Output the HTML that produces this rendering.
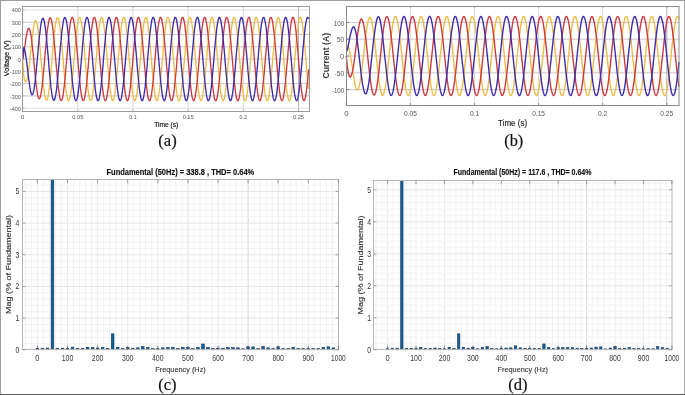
<!DOCTYPE html>
<html><head><meta charset="utf-8"><title>Figure</title>
<style>
html,body{margin:0;padding:0;background:#fff;}
body{width:685px;height:395px;overflow:hidden;}
svg{display:block;font-family:"Liberation Sans",Arial,sans-serif;}
</style></head><body>
<svg width="685" height="395" viewBox="0 0 685 395">
<rect x="0" y="0" width="685" height="395" fill="#fff"/>
<g>
<line x1="22.5" y1="108.21" x2="309.5" y2="108.21" stroke="#e0e0e2" stroke-width="1"/>
<line x1="22.5" y1="95.92" x2="309.5" y2="95.92" stroke="#cdc3cd" stroke-width="1"/>
<line x1="22.5" y1="83.63" x2="309.5" y2="83.63" stroke="#cdc3cd" stroke-width="1"/>
<line x1="22.5" y1="71.34" x2="309.5" y2="71.34" stroke="#cdc3cd" stroke-width="1"/>
<line x1="22.5" y1="59.05" x2="309.5" y2="59.05" stroke="#cdc3cd" stroke-width="1"/>
<line x1="22.5" y1="46.76" x2="309.5" y2="46.76" stroke="#cdc3cd" stroke-width="1"/>
<line x1="22.5" y1="34.47" x2="309.5" y2="34.47" stroke="#cdc3cd" stroke-width="1"/>
<line x1="22.5" y1="22.18" x2="309.5" y2="22.18" stroke="#cdc3cd" stroke-width="1"/>
<line x1="22.5" y1="9.89" x2="309.5" y2="9.89" stroke="#e0e0e2" stroke-width="1"/>
<line x1="77.78" y1="6.5" x2="77.78" y2="111.5" stroke="#dadada" stroke-width="1"/>
<line x1="132.96" y1="6.5" x2="132.96" y2="111.5" stroke="#dadada" stroke-width="1"/>
<line x1="188.14" y1="6.5" x2="188.14" y2="111.5" stroke="#dadada" stroke-width="1"/>
<line x1="243.32" y1="6.5" x2="243.32" y2="111.5" stroke="#dadada" stroke-width="1"/>
<line x1="298.5" y1="6.5" x2="298.5" y2="111.5" stroke="#b8b8bc" stroke-width="1"/>
<path d="M22.6 59.0L22.9 62.7L23.2 66.7L23.5 70.8L23.7 75.0L24.0 78.1L24.3 79.1L24.6 80.0L24.9 80.7L25.2 81.3L25.5 81.7L25.7 81.8L26.0 81.7L26.3 81.3L26.6 80.7L26.9 80.0L27.2 79.0L27.5 77.8L27.8 76.3L28.0 74.7L28.3 72.8L28.6 70.7L28.9 68.4L29.2 66.0L29.5 63.5L29.8 60.9L30.0 58.2L30.3 55.5L30.6 52.7L30.9 49.9L31.2 47.1L31.5 44.3L31.8 41.5L32.0 38.9L32.3 36.5L32.6 34.1L32.9 31.9L33.2 29.8L33.5 27.9L33.8 26.2L34.1 24.7L34.3 23.4L34.6 22.3L34.9 21.5L35.2 20.9L35.5 20.6L35.8 20.6L36.1 20.9L36.3 21.5L36.6 22.3L36.9 23.4L37.2 24.7L37.5 26.2L37.8 28.0L38.1 29.9L38.3 32.1L38.6 34.5L38.9 37.0L39.2 39.8L39.5 42.6L39.8 45.6L40.1 48.6L40.4 51.8L40.6 55.0L40.9 58.3L41.2 61.6L41.5 64.8L41.8 68.1L42.1 71.3L42.4 74.4L42.6 77.5L42.9 80.4L43.2 83.2L43.5 85.8L43.8 88.2L44.1 90.5L44.4 92.5L44.6 94.4L44.9 95.9L45.2 97.3L45.5 98.4L45.8 99.2L46.1 99.8L46.4 100.1L46.7 100.1L46.9 99.8L47.2 99.3L47.5 98.5L47.8 97.5L48.1 96.1L48.4 94.6L48.7 92.8L48.9 90.8L49.2 88.5L49.5 86.1L49.8 83.5L50.1 80.7L50.4 77.8L50.7 74.7L50.9 71.6L51.2 68.3L51.5 65.0L51.8 61.7L52.1 58.3L52.4 54.9L52.7 51.6L53.0 48.3L53.2 45.1L53.5 42.0L53.8 39.0L54.1 36.1L54.4 33.3L54.7 30.8L55.0 28.4L55.2 26.2L55.5 24.3L55.8 22.6L56.1 21.1L56.4 19.9L56.7 18.9L57.0 18.2L57.2 17.8L57.5 17.6L57.8 17.7L58.1 18.1L58.4 18.8L58.7 19.7L59.0 20.9L59.3 22.4L59.5 24.0L59.8 26.0L60.1 28.1L60.4 30.5L60.7 33.0L61.0 35.7L61.3 38.6L61.5 41.6L61.8 44.7L62.1 47.9L62.4 51.2L62.7 54.6L63.0 58.0L63.3 61.4L63.5 64.7L63.8 68.1L64.1 71.3L64.4 74.5L64.7 77.6L65.0 80.6L65.3 83.4L65.6 86.1L65.8 88.6L66.1 90.9L66.4 93.0L66.7 94.8L67.0 96.4L67.3 97.8L67.6 98.9L67.8 99.8L68.1 100.3L68.4 100.6L68.7 100.7L69.0 100.4L69.3 99.9L69.6 99.1L69.8 98.0L70.1 96.7L70.4 95.1L70.7 93.3L71.0 91.3L71.3 89.0L71.6 86.6L71.9 83.9L72.1 81.1L72.4 78.2L72.7 75.1L73.0 71.9L73.3 68.7L73.6 65.3L73.9 62.0L74.1 58.6L74.4 55.2L74.7 51.8L75.0 48.5L75.3 45.3L75.6 42.1L75.9 39.1L76.1 36.2L76.4 33.4L76.7 30.8L77.0 28.4L77.3 26.2L77.6 24.3L77.9 22.5L78.1 21.0L78.4 19.8L78.7 18.8L79.0 18.0L79.3 17.6L79.6 17.4L79.9 17.5L80.2 17.9L80.4 18.5L80.7 19.5L81.0 20.6L81.3 22.1L81.6 23.8L81.9 25.7L82.2 27.8L82.4 30.2L82.7 32.7L83.0 35.4L83.3 38.3L83.6 41.3L83.9 44.4L84.2 47.6L84.4 50.9L84.7 54.3L85.0 57.7L85.3 61.1L85.6 64.5L85.9 67.8L86.2 71.1L86.5 74.3L86.7 77.4L87.0 80.4L87.3 83.2L87.6 85.9L87.9 88.4L88.2 90.7L88.5 92.8L88.7 94.7L89.0 96.3L89.3 97.7L89.6 98.8L89.9 99.7L90.2 100.3L90.5 100.6L90.7 100.7L91.0 100.4L91.3 99.9L91.6 99.2L91.9 98.1L92.2 96.8L92.5 95.3L92.8 93.5L93.0 91.5L93.3 89.2L93.6 86.8L93.9 84.2L94.2 81.4L94.5 78.4L94.8 75.4L95.0 72.2L95.3 68.9L95.6 65.6L95.9 62.3L96.2 58.9L96.5 55.5L96.8 52.1L97.0 48.8L97.3 45.5L97.6 42.4L97.9 39.3L98.2 36.4L98.5 33.6L98.8 31.0L99.1 28.6L99.3 26.4L99.6 24.4L99.9 22.6L100.2 21.1L100.5 19.8L100.8 18.8L101.1 18.1L101.3 17.6L101.6 17.4L101.9 17.5L102.2 17.9L102.5 18.5L102.8 19.4L103.1 20.5L103.3 22.0L103.6 23.6L103.9 25.5L104.2 27.6L104.5 30.0L104.8 32.5L105.1 35.2L105.4 38.0L105.6 41.0L105.9 44.2L106.2 47.4L106.5 50.7L106.8 54.0L107.1 57.4L107.4 60.8L107.6 64.2L107.9 67.5L108.2 70.8L108.5 74.0L108.8 77.1L109.1 80.1L109.4 83.0L109.6 85.7L109.9 88.2L110.2 90.5L110.5 92.6L110.8 94.5L111.1 96.2L111.4 97.6L111.7 98.8L111.9 99.6L112.2 100.3L112.5 100.6L112.8 100.7L113.1 100.5L113.4 100.0L113.7 99.2L113.9 98.2L114.2 96.9L114.5 95.4L114.8 93.6L115.1 91.6L115.4 89.4L115.7 87.0L115.9 84.4L116.2 81.6L116.5 78.7L116.8 75.6L117.1 72.5L117.4 69.2L117.7 65.9L118.0 62.5L118.2 59.1L118.5 55.8L118.8 52.4L119.1 49.1L119.4 45.8L119.7 42.6L120.0 39.6L120.2 36.6L120.5 33.9L120.8 31.2L121.1 28.8L121.4 26.6L121.7 24.6L122.0 22.8L122.2 21.2L122.5 19.9L122.8 18.9L123.1 18.1L123.4 17.6L123.7 17.4L124.0 17.5L124.3 17.8L124.5 18.4L124.8 19.3L125.1 20.4L125.4 21.8L125.7 23.5L126.0 25.3L126.3 27.5L126.5 29.8L126.8 32.3L127.1 35.0L127.4 37.8L127.7 40.8L128.0 43.9L128.3 47.1L128.5 50.4L128.8 53.7L129.1 57.1L129.4 60.5L129.7 63.9L130.0 67.2L130.3 70.5L130.5 73.8L130.8 76.9L131.1 79.9L131.4 82.8L131.7 85.5L132.0 88.0L132.3 90.3L132.6 92.5L132.8 94.4L133.1 96.1L133.4 97.5L133.7 98.7L134.0 99.6L134.3 100.2L134.6 100.6L134.8 100.7L135.1 100.5L135.4 100.0L135.7 99.3L136.0 98.3L136.3 97.1L136.6 95.5L136.8 93.8L137.1 91.8L137.4 89.6L137.7 87.2L138.0 84.6L138.3 81.9L138.6 78.9L138.9 75.9L139.1 72.7L139.4 69.5L139.7 66.2L140.0 62.8L140.3 59.4L140.6 56.0L140.9 52.7L141.1 49.3L141.4 46.1L141.7 42.9L142.0 39.8L142.3 36.9L142.6 34.1L142.9 31.5L143.1 29.0L143.4 26.8L143.7 24.7L144.0 22.9L144.3 21.4L144.6 20.0L144.9 19.0L145.2 18.2L145.4 17.7L145.7 17.4L146.0 17.5L146.3 17.8L146.6 18.4L146.9 19.2L147.2 20.3L147.4 21.7L147.7 23.3L148.0 25.2L148.3 27.3L148.6 29.6L148.9 32.1L149.2 34.7L149.4 37.6L149.7 40.5L150.0 43.6L150.3 46.8L150.6 50.1L150.9 53.5L151.2 56.8L151.5 60.2L151.7 63.6L152.0 67.0L152.3 70.3L152.6 73.5L152.9 76.6L153.2 79.6L153.5 82.5L153.7 85.2L154.0 87.8L154.3 90.2L154.6 92.3L154.9 94.2L155.2 95.9L155.5 97.4L155.7 98.6L156.0 99.5L156.3 100.2L156.6 100.6L156.9 100.7L157.2 100.5L157.5 100.1L157.8 99.4L158.0 98.4L158.3 97.2L158.6 95.7L158.9 94.0L159.2 92.0L159.5 89.8L159.8 87.4L160.0 84.8L160.3 82.1L160.6 79.2L160.9 76.2L161.2 73.0L161.5 69.8L161.8 66.5L162.0 63.1L162.3 59.7L162.6 56.3L162.9 52.9L163.2 49.6L163.5 46.3L163.8 43.2L164.1 40.1L164.3 37.1L164.6 34.3L164.9 31.7L165.2 29.2L165.5 26.9L165.8 24.9L166.1 23.1L166.3 21.5L166.6 20.1L166.9 19.1L167.2 18.2L167.5 17.7L167.8 17.4L168.1 17.5L168.3 17.7L168.6 18.3L168.9 19.1L169.2 20.2L169.5 21.6L169.8 23.2L170.1 25.0L170.4 27.1L170.6 29.4L170.9 31.8L171.2 34.5L171.5 37.3L171.8 40.3L172.1 43.4L172.4 46.6L172.6 49.8L172.9 53.2L173.2 56.6L173.5 59.9L173.8 63.3L174.1 66.7L174.4 70.0L174.6 73.2L174.9 76.4L175.2 79.4L175.5 82.3L175.8 85.0L176.1 87.6L176.4 90.0L176.7 92.1L176.9 94.1L177.2 95.8L177.5 97.3L177.8 98.5L178.1 99.4L178.4 100.1L178.7 100.5L178.9 100.7L179.2 100.6L179.5 100.1L179.8 99.5L180.1 98.5L180.4 97.3L180.7 95.8L180.9 94.1L181.2 92.2L181.5 90.0L181.8 87.6L182.1 85.1L182.4 82.3L182.7 79.4L183.0 76.4L183.2 73.3L183.5 70.0L183.8 66.7L184.1 63.4L184.4 60.0L184.7 56.6L185.0 53.2L185.2 49.9L185.5 46.6L185.8 43.4L186.1 40.3L186.4 37.4L186.7 34.5L187.0 31.9L187.2 29.4L187.5 27.1L187.8 25.0L188.1 23.2L188.4 21.6L188.7 20.2L189.0 19.1L189.2 18.3L189.5 17.7L189.8 17.5L190.1 17.4L190.4 17.7L190.7 18.2L191.0 19.0L191.3 20.1L191.5 21.5L191.8 23.0L192.1 24.9L192.4 26.9L192.7 29.2L193.0 31.6L193.3 34.3L193.5 37.1L193.8 40.0L194.1 43.1L194.4 46.3L194.7 49.6L195.0 52.9L195.3 56.3L195.5 59.7L195.8 63.1L196.1 66.4L196.4 69.7L196.7 73.0L197.0 76.1L197.3 79.2L197.6 82.1L197.8 84.8L198.1 87.4L198.4 89.8L198.7 92.0L199.0 93.9L199.3 95.7L199.6 97.2L199.8 98.4L200.1 99.4L200.4 100.1L200.7 100.5L201.0 100.7L201.3 100.6L201.6 100.2L201.8 99.5L202.1 98.6L202.4 97.4L202.7 96.0L203.0 94.3L203.3 92.3L203.6 90.2L203.9 87.8L204.1 85.3L204.4 82.6L204.7 79.7L205.0 76.7L205.3 73.5L205.6 70.3L205.9 67.0L206.1 63.7L206.4 60.3L206.7 56.9L207.0 53.5L207.3 50.2L207.6 46.9L207.9 43.7L208.1 40.6L208.4 37.6L208.7 34.8L209.0 32.1L209.3 29.6L209.6 27.3L209.9 25.2L210.2 23.3L210.4 21.7L210.7 20.3L211.0 19.2L211.3 18.4L211.6 17.8L211.9 17.5L212.2 17.4L212.4 17.7L212.7 18.2L213.0 19.0L213.3 20.0L213.6 21.3L213.9 22.9L214.2 24.7L214.4 26.7L214.7 29.0L215.0 31.4L215.3 34.0L215.6 36.8L215.9 39.8L216.2 42.8L216.5 46.0L216.7 49.3L217.0 52.6L217.3 56.0L217.6 59.4L217.9 62.8L218.2 66.1L218.5 69.5L218.7 72.7L219.0 75.9L219.3 78.9L219.6 81.8L219.9 84.6L220.2 87.2L220.5 89.6L220.7 91.8L221.0 93.8L221.3 95.5L221.6 97.0L221.9 98.3L222.2 99.3L222.5 100.0L222.8 100.5L223.0 100.7L223.3 100.6L223.6 100.2L223.9 99.6L224.2 98.7L224.5 97.5L224.8 96.1L225.0 94.4L225.3 92.5L225.6 90.4L225.9 88.0L226.2 85.5L226.5 82.8L226.8 79.9L227.0 76.9L227.3 73.8L227.6 70.6L227.9 67.3L228.2 63.9L228.5 60.6L228.8 57.2L229.1 53.8L229.3 50.4L229.6 47.2L229.9 43.9L230.2 40.8L230.5 37.8L230.8 35.0L231.1 32.3L231.3 29.8L231.6 27.5L231.9 25.4L232.2 23.5L232.5 21.8L232.8 20.4L233.1 19.3L233.3 18.4L233.6 17.8L233.9 17.5L234.2 17.4L234.5 17.6L234.8 18.1L235.1 18.9L235.4 19.9L235.6 21.2L235.9 22.8L236.2 24.5L236.5 26.6L236.8 28.8L237.1 31.2L237.4 33.8L237.6 36.6L237.9 39.5L238.2 42.6L238.5 45.8L238.8 49.0L239.1 52.3L239.4 55.7L239.6 59.1L239.9 62.5L240.2 65.9L240.5 69.2L240.8 72.4L241.1 75.6L241.4 78.7L241.6 81.6L241.9 84.4L242.2 87.0L242.5 89.4L242.8 91.6L243.1 93.6L243.4 95.4L243.7 96.9L243.9 98.2L244.2 99.2L244.5 100.0L244.8 100.5L245.1 100.7L245.4 100.6L245.7 100.3L245.9 99.7L246.2 98.8L246.5 97.6L246.8 96.2L247.1 94.6L247.4 92.7L247.7 90.6L247.9 88.2L248.2 85.7L248.5 83.0L248.8 80.2L249.1 77.2L249.4 74.1L249.7 70.9L250.0 67.6L250.2 64.2L250.5 60.8L250.8 57.4L251.1 54.1L251.4 50.7L251.7 47.4L252.0 44.2L252.2 41.1L252.5 38.1L252.8 35.2L253.1 32.5L253.4 30.0L253.7 27.7L254.0 25.5L254.2 23.6L254.5 22.0L254.8 20.6L255.1 19.4L255.4 18.5L255.7 17.9L256.0 17.5L256.3 17.4L256.5 17.6L256.8 18.1L257.1 18.8L257.4 19.8L257.7 21.1L258.0 22.6L258.3 24.4L258.5 26.4L258.8 28.6L259.1 31.0L259.4 33.6L259.7 36.4L260.0 39.3L260.3 42.3L260.5 45.5L260.8 48.7L261.1 52.1L261.4 55.4L261.7 58.8L262.0 62.2L262.3 65.6L262.6 68.9L262.8 72.2L263.1 75.3L263.4 78.4L263.7 81.3L264.0 84.1L264.3 86.8L264.6 89.2L264.8 91.4L265.1 93.5L265.4 95.3L265.7 96.8L266.0 98.1L266.3 99.2L266.6 99.9L266.8 100.4L267.1 100.7L267.4 100.6L267.7 100.3L268.0 99.7L268.3 98.8L268.6 97.7L268.9 96.3L269.1 94.7L269.4 92.8L269.7 90.7L270.0 88.4L270.3 85.9L270.6 83.3L270.9 80.4L271.1 77.4L271.4 74.3L271.7 71.1L272.0 67.8L272.3 64.5L272.6 61.1L272.9 57.7L273.1 54.3L273.4 51.0L273.7 47.7L274.0 44.5L274.3 41.3L274.6 38.3L274.9 35.5L275.2 32.7L275.4 30.2L275.7 27.9L276.0 25.7L276.3 23.8L276.6 22.1L276.9 20.7L277.2 19.5L277.4 18.6L277.7 17.9L278.0 17.5L278.3 17.4L278.6 17.6L278.9 18.0L279.2 18.7L279.4 19.7L279.7 21.0L280.0 22.5L280.3 24.2L280.6 26.2L280.9 28.4L281.2 30.8L281.5 33.4L281.7 36.1L282.0 39.0L282.3 42.1L282.6 45.2L282.9 48.5L283.2 51.8L283.5 55.1L283.7 58.5L284.0 61.9L284.3 65.3L284.6 68.6L284.9 71.9L285.2 75.1L285.5 78.2L285.7 81.1L286.0 83.9L286.3 86.5L286.6 89.0L286.9 91.3L287.2 93.3L287.5 95.1L287.8 96.7L288.0 98.0L288.3 99.1L288.6 99.9L288.9 100.4L289.2 100.7L289.5 100.6L289.8 100.3L290.0 99.8L290.3 98.9L290.6 97.8L290.9 96.5L291.2 94.8L291.5 93.0L291.8 90.9L292.0 88.6L292.3 86.2L292.6 83.5L292.9 80.7L293.2 77.7L293.5 74.6L293.8 71.4L294.0 68.1L294.3 64.8L294.6 61.4L294.9 58.0L295.2 54.6L295.5 51.3L295.8 48.0L296.1 44.7L296.3 41.6L296.6 38.6L296.9 35.7L297.2 33.0L297.5 30.4L297.8 28.0L298.1 25.9L298.3 23.9L298.6 22.2L298.9 20.8L299.2 19.6L299.5 18.6L299.8 17.9L300.1 17.5L300.3 17.4L300.6 17.6L300.9 18.0L301.2 18.7L301.5 19.6L301.8 20.9L302.1 22.3L302.4 24.1L302.6 26.0L302.9 28.2L303.2 30.6L303.5 33.1L303.8 35.9L304.1 38.8L304.4 41.8L304.6 45.0L304.9 48.2L305.2 51.5L305.5 54.9L305.8 58.2L306.1 61.6L306.4 65.0L306.6 68.4L306.9 71.6L307.2 74.8L307.5 77.9L307.8 80.9L308.1 83.7L308.4 86.3L308.7 88.8" fill="none" stroke="#ebbd48" stroke-width="1.35" stroke-linejoin="round"/>
<path d="M22.6 59.0L22.9 58.7L23.2 57.7L23.5 56.1L23.7 53.8L24.0 51.5L24.3 49.6L24.6 47.7L24.9 45.8L25.2 43.8L25.5 41.8L25.7 39.9L26.0 38.2L26.3 36.5L26.6 34.9L26.9 33.4L27.2 32.0L27.5 30.8L27.8 29.8L28.0 28.9L28.3 28.4L28.6 28.3L28.9 28.3L29.2 28.6L29.5 29.1L29.8 29.8L30.0 30.8L30.3 31.9L30.6 33.3L30.9 34.9L31.2 36.7L31.5 38.7L31.8 40.9L32.0 43.4L32.3 46.0L32.6 48.7L32.9 51.5L33.2 54.4L33.5 57.4L33.8 60.4L34.1 63.5L34.3 66.5L34.6 69.6L34.9 72.6L35.2 75.5L35.5 78.4L35.8 81.1L36.1 83.6L36.3 86.0L36.6 88.3L36.9 90.3L37.2 92.2L37.5 93.8L37.8 95.3L38.1 96.5L38.3 97.4L38.6 98.1L38.9 98.5L39.2 98.7L39.5 98.6L39.8 98.3L40.1 97.6L40.4 96.8L40.6 95.6L40.9 94.2L41.2 92.6L41.5 90.8L41.8 88.7L42.1 86.4L42.4 83.9L42.6 81.3L42.9 78.5L43.2 75.5L43.5 72.4L43.8 69.2L44.1 66.0L44.4 62.7L44.6 59.3L44.9 56.0L45.2 52.7L45.5 49.4L45.8 46.2L46.1 43.0L46.4 40.0L46.7 37.1L46.9 34.3L47.2 31.7L47.5 29.3L47.8 27.1L48.1 25.1L48.4 23.3L48.7 21.7L48.9 20.4L49.2 19.4L49.5 18.6L49.8 18.0L50.1 17.8L50.4 17.8L50.7 18.1L50.9 18.7L51.2 19.5L51.5 20.7L51.8 22.0L52.1 23.6L52.4 25.5L52.7 27.6L53.0 29.8L53.2 32.3L53.5 35.0L53.8 37.8L54.1 40.7L54.4 43.8L54.7 47.0L55.0 50.3L55.2 53.6L55.5 56.9L55.8 60.3L56.1 63.7L56.4 67.0L56.7 70.3L57.0 73.5L57.2 76.6L57.5 79.6L57.8 82.5L58.1 85.2L58.4 87.7L58.7 90.1L59.0 92.2L59.3 94.2L59.5 95.8L59.8 97.3L60.1 98.5L60.4 99.4L60.7 100.1L61.0 100.5L61.3 100.6L61.5 100.4L61.8 100.0L62.1 99.3L62.4 98.3L62.7 97.1L63.0 95.6L63.3 93.8L63.5 91.9L63.8 89.7L64.1 87.3L64.4 84.7L64.7 82.0L65.0 79.1L65.3 76.1L65.6 72.9L65.8 69.7L66.1 66.4L66.4 63.0L66.7 59.6L67.0 56.2L67.3 52.9L67.6 49.5L67.8 46.3L68.1 43.1L68.4 40.0L68.7 37.0L69.0 34.2L69.3 31.6L69.6 29.1L69.8 26.9L70.1 24.8L70.4 23.0L70.7 21.4L71.0 20.1L71.3 19.0L71.6 18.2L71.9 17.7L72.1 17.4L72.4 17.5L72.7 17.7L73.0 18.3L73.3 19.2L73.6 20.3L73.9 21.6L74.1 23.2L74.4 25.1L74.7 27.1L75.0 29.4L75.3 31.9L75.6 34.6L75.9 37.4L76.1 40.4L76.4 43.5L76.7 46.7L77.0 49.9L77.3 53.3L77.6 56.6L77.9 60.0L78.1 63.4L78.4 66.8L78.7 70.1L79.0 73.3L79.3 76.5L79.6 79.5L79.9 82.4L80.2 85.1L80.4 87.7L80.7 90.0L81.0 92.2L81.3 94.1L81.6 95.8L81.9 97.3L82.2 98.5L82.4 99.5L82.7 100.1L83.0 100.6L83.3 100.7L83.6 100.5L83.9 100.1L84.2 99.4L84.4 98.5L84.7 97.2L85.0 95.8L85.3 94.1L85.6 92.1L85.9 89.9L86.2 87.6L86.5 85.0L86.7 82.2L87.0 79.4L87.3 76.3L87.6 73.2L87.9 70.0L88.2 66.6L88.5 63.3L88.7 59.9L89.0 56.5L89.3 53.1L89.6 49.8L89.9 46.5L90.2 43.3L90.5 40.2L90.7 37.3L91.0 34.5L91.3 31.8L91.6 29.3L91.9 27.1L92.2 25.0L92.5 23.2L92.8 21.6L93.0 20.2L93.3 19.1L93.6 18.3L93.9 17.7L94.2 17.4L94.5 17.4L94.8 17.7L95.0 18.3L95.3 19.1L95.6 20.2L95.9 21.5L96.2 23.1L96.5 24.9L96.8 27.0L97.0 29.2L97.3 31.7L97.6 34.3L97.9 37.2L98.2 40.1L98.5 43.2L98.8 46.4L99.1 49.7L99.3 53.0L99.6 56.4L99.9 59.8L100.2 63.1L100.5 66.5L100.8 69.8L101.1 73.1L101.3 76.2L101.6 79.2L101.9 82.1L102.2 84.9L102.5 87.5L102.8 89.8L103.1 92.0L103.3 94.0L103.6 95.7L103.9 97.2L104.2 98.4L104.5 99.4L104.8 100.1L105.1 100.5L105.4 100.7L105.6 100.6L105.9 100.2L106.2 99.5L106.5 98.6L106.8 97.4L107.1 95.9L107.4 94.2L107.6 92.3L107.9 90.1L108.2 87.8L108.5 85.2L108.8 82.5L109.1 79.6L109.4 76.6L109.6 73.5L109.9 70.2L110.2 66.9L110.5 63.6L110.8 60.2L111.1 56.8L111.4 53.4L111.7 50.1L111.9 46.8L112.2 43.6L112.5 40.5L112.8 37.5L113.1 34.7L113.4 32.0L113.7 29.5L113.9 27.2L114.2 25.2L114.5 23.3L114.8 21.7L115.1 20.3L115.4 19.2L115.7 18.3L115.9 17.8L116.2 17.5L116.5 17.4L116.8 17.7L117.1 18.2L117.4 19.0L117.7 20.1L118.0 21.4L118.2 22.9L118.5 24.8L118.8 26.8L119.1 29.0L119.4 31.5L119.7 34.1L120.0 36.9L120.2 39.9L120.5 42.9L120.8 46.1L121.1 49.4L121.4 52.7L121.7 56.1L122.0 59.5L122.2 62.9L122.5 66.2L122.8 69.5L123.1 72.8L123.4 75.9L123.7 79.0L124.0 81.9L124.3 84.7L124.5 87.2L124.8 89.6L125.1 91.8L125.4 93.8L125.7 95.6L126.0 97.1L126.3 98.3L126.5 99.3L126.8 100.1L127.1 100.5L127.4 100.7L127.7 100.6L128.0 100.2L128.3 99.6L128.5 98.7L128.8 97.5L129.1 96.0L129.4 94.4L129.7 92.4L130.0 90.3L130.3 88.0L130.5 85.4L130.8 82.7L131.1 79.8L131.4 76.8L131.7 73.7L132.0 70.5L132.3 67.2L132.6 63.8L132.8 60.5L133.1 57.1L133.4 53.7L133.7 50.3L134.0 47.1L134.3 43.9L134.6 40.7L134.8 37.8L135.1 34.9L135.4 32.2L135.7 29.7L136.0 27.4L136.3 25.3L136.6 23.4L136.8 21.8L137.1 20.4L137.4 19.3L137.7 18.4L138.0 17.8L138.3 17.5L138.6 17.4L138.9 17.6L139.1 18.1L139.4 18.9L139.7 20.0L140.0 21.3L140.3 22.8L140.6 24.6L140.9 26.6L141.1 28.8L141.4 31.3L141.7 33.9L142.0 36.7L142.3 39.6L142.6 42.7L142.9 45.8L143.1 49.1L143.4 52.4L143.7 55.8L144.0 59.2L144.3 62.6L144.6 65.9L144.9 69.3L145.2 72.5L145.4 75.7L145.7 78.7L146.0 81.7L146.3 84.4L146.6 87.0L146.9 89.5L147.2 91.7L147.4 93.7L147.7 95.4L148.0 97.0L148.3 98.2L148.6 99.3L148.9 100.0L149.2 100.5L149.4 100.7L149.7 100.6L150.0 100.3L150.3 99.6L150.6 98.7L150.9 97.6L151.2 96.2L151.5 94.5L151.7 92.6L152.0 90.5L152.3 88.2L152.6 85.6L152.9 82.9L153.2 80.1L153.5 77.1L153.7 74.0L154.0 70.8L154.3 67.5L154.6 64.1L154.9 60.7L155.2 57.4L155.5 54.0L155.7 50.6L156.0 47.3L156.3 44.1L156.6 41.0L156.9 38.0L157.2 35.2L157.5 32.5L157.8 29.9L158.0 27.6L158.3 25.5L158.6 23.6L158.9 21.9L159.2 20.5L159.5 19.4L159.8 18.5L160.0 17.8L160.3 17.5L160.6 17.4L160.9 17.6L161.2 18.1L161.5 18.8L161.8 19.9L162.0 21.1L162.3 22.7L162.6 24.4L162.9 26.4L163.2 28.6L163.5 31.1L163.8 33.7L164.1 36.4L164.3 39.4L164.6 42.4L164.9 45.6L165.2 48.8L165.5 52.2L165.8 55.5L166.1 58.9L166.3 62.3L166.6 65.7L166.9 69.0L167.2 72.3L167.5 75.4L167.8 78.5L168.1 81.4L168.3 84.2L168.6 86.8L168.9 89.3L169.2 91.5L169.5 93.5L169.8 95.3L170.1 96.8L170.4 98.1L170.6 99.2L170.9 100.0L171.2 100.5L171.5 100.7L171.8 100.6L172.1 100.3L172.4 99.7L172.6 98.8L172.9 97.7L173.2 96.3L173.5 94.7L173.8 92.8L174.1 90.7L174.4 88.4L174.6 85.9L174.9 83.2L175.2 80.3L175.5 77.4L175.8 74.2L176.1 71.0L176.4 67.8L176.7 64.4L176.9 61.0L177.2 57.6L177.5 54.3L177.8 50.9L178.1 47.6L178.4 44.4L178.7 41.3L178.9 38.3L179.2 35.4L179.5 32.7L179.8 30.1L180.1 27.8L180.4 25.7L180.7 23.7L180.9 22.1L181.2 20.6L181.5 19.4L181.8 18.5L182.1 17.9L182.4 17.5L182.7 17.4L183.0 17.6L183.2 18.0L183.5 18.8L183.8 19.8L184.1 21.0L184.4 22.5L184.7 24.3L185.0 26.3L185.2 28.5L185.5 30.9L185.8 33.4L186.1 36.2L186.4 39.1L186.7 42.2L187.0 45.3L187.2 48.6L187.5 51.9L187.8 55.2L188.1 58.6L188.4 62.0L188.7 65.4L189.0 68.7L189.2 72.0L189.5 75.2L189.8 78.2L190.1 81.2L190.4 84.0L190.7 86.6L191.0 89.1L191.3 91.3L191.5 93.3L191.8 95.2L192.1 96.7L192.4 98.0L192.7 99.1L193.0 99.9L193.3 100.4L193.5 100.7L193.8 100.6L194.1 100.3L194.4 99.8L194.7 98.9L195.0 97.8L195.3 96.4L195.5 94.8L195.8 92.9L196.1 90.9L196.4 88.6L196.7 86.1L197.0 83.4L197.3 80.6L197.6 77.6L197.8 74.5L198.1 71.3L198.4 68.0L198.7 64.7L199.0 61.3L199.3 57.9L199.6 54.5L199.8 51.2L200.1 47.9L200.4 44.6L200.7 41.5L201.0 38.5L201.3 35.6L201.6 32.9L201.8 30.3L202.1 28.0L202.4 25.8L202.7 23.9L203.0 22.2L203.3 20.7L203.6 19.5L203.9 18.6L204.1 17.9L204.4 17.5L204.7 17.4L205.0 17.6L205.3 18.0L205.6 18.7L205.9 19.7L206.1 20.9L206.4 22.4L206.7 24.1L207.0 26.1L207.3 28.3L207.6 30.6L207.9 33.2L208.1 36.0L208.4 38.9L208.7 41.9L209.0 45.0L209.3 48.3L209.6 51.6L209.9 55.0L210.2 58.3L210.4 61.7L210.7 65.1L211.0 68.4L211.3 71.7L211.6 74.9L211.9 78.0L212.2 80.9L212.4 83.8L212.7 86.4L213.0 88.9L213.3 91.1L213.6 93.2L213.9 95.0L214.2 96.6L214.4 97.9L214.7 99.0L215.0 99.8L215.3 100.4L215.6 100.7L215.9 100.7L216.2 100.4L216.5 99.8L216.7 99.0L217.0 97.9L217.3 96.5L217.6 94.9L217.9 93.1L218.2 91.0L218.5 88.8L218.7 86.3L219.0 83.6L219.3 80.8L219.6 77.9L219.9 74.8L220.2 71.6L220.5 68.3L220.7 65.0L221.0 61.6L221.3 58.2L221.6 54.8L221.9 51.5L222.2 48.1L222.5 44.9L222.8 41.8L223.0 38.7L223.3 35.9L223.6 33.1L223.9 30.5L224.2 28.2L224.5 26.0L224.8 24.0L225.0 22.3L225.3 20.9L225.6 19.6L225.9 18.7L226.2 18.0L226.5 17.6L226.8 17.4L227.0 17.5L227.3 18.0L227.6 18.6L227.9 19.6L228.2 20.8L228.5 22.3L228.8 24.0L229.1 25.9L229.3 28.1L229.6 30.4L229.9 33.0L230.2 35.7L230.5 38.6L230.8 41.6L231.1 44.8L231.3 48.0L231.6 51.3L231.9 54.7L232.2 58.1L232.5 61.5L232.8 64.8L233.1 68.2L233.3 71.4L233.6 74.6L233.9 77.7L234.2 80.7L234.5 83.5L234.8 86.2L235.1 88.7L235.4 91.0L235.6 93.0L235.9 94.9L236.2 96.5L236.5 97.8L236.8 98.9L237.1 99.8L237.4 100.4L237.6 100.6L237.9 100.7L238.2 100.4L238.5 99.9L238.8 99.1L239.1 98.0L239.4 96.7L239.6 95.1L239.9 93.3L240.2 91.2L240.5 89.0L240.8 86.5L241.1 83.9L241.4 81.1L241.6 78.1L241.9 75.0L242.2 71.8L242.5 68.6L242.8 65.2L243.1 61.9L243.4 58.5L243.7 55.1L243.9 51.7L244.2 48.4L244.5 45.2L244.8 42.0L245.1 39.0L245.4 36.1L245.7 33.3L245.9 30.8L246.2 28.4L246.5 26.2L246.8 24.2L247.1 22.5L247.4 21.0L247.7 19.7L247.9 18.7L248.2 18.0L248.5 17.6L248.8 17.4L249.1 17.5L249.4 17.9L249.7 18.6L250.0 19.5L250.2 20.7L250.5 22.1L250.8 23.8L251.1 25.7L251.4 27.9L251.7 30.2L252.0 32.8L252.2 35.5L252.5 38.4L252.8 41.4L253.1 44.5L253.4 47.7L253.7 51.0L254.0 54.4L254.2 57.8L254.5 61.2L254.8 64.5L255.1 67.9L255.4 71.2L255.7 74.4L256.0 77.5L256.3 80.5L256.5 83.3L256.8 86.0L257.1 88.5L257.4 90.8L257.7 92.9L258.0 94.7L258.3 96.4L258.5 97.7L258.8 98.9L259.1 99.7L259.4 100.3L259.7 100.6L260.0 100.7L260.3 100.4L260.5 99.9L260.8 99.1L261.1 98.1L261.4 96.8L261.7 95.2L262.0 93.4L262.3 91.4L262.6 89.2L262.8 86.7L263.1 84.1L263.4 81.3L263.7 78.4L264.0 75.3L264.3 72.1L264.6 68.9L264.8 65.5L265.1 62.2L265.4 58.8L265.7 55.4L266.0 52.0L266.3 48.7L266.6 45.4L266.8 42.3L267.1 39.2L267.4 36.3L267.7 33.6L268.0 31.0L268.3 28.6L268.6 26.3L268.9 24.4L269.1 22.6L269.4 21.1L269.7 19.8L270.0 18.8L270.3 18.1L270.6 17.6L270.9 17.4L271.1 17.5L271.4 17.9L271.7 18.5L272.0 19.4L272.3 20.6L272.6 22.0L272.9 23.7L273.1 25.6L273.4 27.7L273.7 30.0L274.0 32.6L274.3 35.3L274.6 38.1L274.9 41.1L275.2 44.2L275.4 47.5L275.7 50.8L276.0 54.1L276.3 57.5L276.6 60.9L276.9 64.3L277.2 67.6L277.4 70.9L277.7 74.1L278.0 77.2L278.3 80.2L278.6 83.1L278.9 85.8L279.2 88.3L279.4 90.6L279.7 92.7L280.0 94.6L280.3 96.2L280.6 97.6L280.9 98.8L281.2 99.7L281.5 100.3L281.7 100.6L282.0 100.7L282.3 100.5L282.6 100.0L282.9 99.2L283.2 98.2L283.5 96.9L283.7 95.4L284.0 93.6L284.3 91.6L284.6 89.4L284.9 86.9L285.2 84.3L285.5 81.5L285.7 78.6L286.0 75.6L286.3 72.4L286.6 69.1L286.9 65.8L287.2 62.4L287.5 59.1L287.8 55.7L288.0 52.3L288.3 49.0L288.6 45.7L288.9 42.5L289.2 39.5L289.5 36.6L289.8 33.8L290.0 31.2L290.3 28.7L290.6 26.5L290.9 24.5L291.2 22.7L291.5 21.2L291.8 19.9L292.0 18.9L292.3 18.1L292.6 17.6L292.9 17.4L293.2 17.5L293.5 17.8L293.8 18.4L294.0 19.3L294.3 20.5L294.6 21.9L294.9 23.5L295.2 25.4L295.5 27.5L295.8 29.8L296.1 32.3L296.3 35.0L296.6 37.9L296.9 40.9L297.2 44.0L297.5 47.2L297.8 50.5L298.1 53.8L298.3 57.2L298.6 60.6L298.9 64.0L299.2 67.3L299.5 70.6L299.8 73.9L300.1 77.0L300.3 80.0L300.6 82.8L300.9 85.5L301.2 88.1L301.5 90.4L301.8 92.5L302.1 94.4L302.4 96.1L302.6 97.5L302.9 98.7L303.2 99.6L303.5 100.2L303.8 100.6L304.1 100.7L304.4 100.5L304.6 100.0L304.9 99.3L305.2 98.3L305.5 97.0L305.8 95.5L306.1 93.7L306.4 91.8L306.6 89.5L306.9 87.1L307.2 84.5L307.5 81.8L307.8 78.9L308.1 75.8L308.4 72.7L308.7 69.4" fill="none" stroke="#cc3a40" stroke-width="1.35" stroke-linejoin="round"/>
<path d="M22.6 59.0L22.9 55.7L23.2 52.8L23.5 50.3L23.7 48.3L24.0 47.6L24.3 48.4L24.6 49.4L24.9 50.6L25.2 52.0L25.5 53.6L25.7 55.4L26.0 57.3L26.3 59.4L26.6 61.5L26.9 63.8L27.2 66.2L27.5 68.6L27.8 71.1L28.0 73.6L28.3 75.9L28.6 78.2L28.9 80.4L29.2 82.5L29.5 84.5L29.8 86.4L30.0 88.2L30.3 89.7L30.6 91.1L30.9 92.3L31.2 93.3L31.5 94.1L31.8 94.7L32.0 94.8L32.3 94.7L32.6 94.3L32.9 93.7L33.2 92.9L33.5 91.8L33.8 90.5L34.1 89.0L34.3 87.2L34.6 85.2L34.9 83.1L35.2 80.7L35.5 78.2L35.8 75.4L36.1 72.6L36.3 69.6L36.6 66.6L36.9 63.4L37.2 60.3L37.5 57.1L37.8 53.9L38.1 50.8L38.3 47.6L38.6 44.6L38.9 41.6L39.2 38.7L39.5 35.9L39.8 33.3L40.1 30.9L40.4 28.6L40.6 26.5L40.9 24.6L41.2 23.0L41.5 21.5L41.8 20.4L42.1 19.4L42.4 18.8L42.6 18.4L42.9 18.3L43.2 18.5L43.5 18.9L43.8 19.7L44.1 20.7L44.4 22.0L44.6 23.5L44.9 25.2L45.2 27.2L45.5 29.4L45.8 31.8L46.1 34.3L46.4 37.1L46.7 40.0L46.9 43.0L47.2 46.1L47.5 49.3L47.8 52.6L48.1 55.9L48.4 59.3L48.7 62.6L48.9 66.0L49.2 69.3L49.5 72.5L49.8 75.6L50.1 78.7L50.4 81.6L50.7 84.3L50.9 86.9L51.2 89.3L51.5 91.5L51.8 93.5L52.1 95.2L52.4 96.7L52.7 98.0L53.0 99.0L53.2 99.7L53.5 100.2L53.8 100.4L54.1 100.3L54.4 100.0L54.7 99.4L55.0 98.5L55.2 97.3L55.5 95.9L55.8 94.3L56.1 92.4L56.4 90.3L56.7 88.0L57.0 85.4L57.2 82.8L57.5 79.9L57.8 76.9L58.1 73.8L58.4 70.6L58.7 67.4L59.0 64.0L59.3 60.6L59.5 57.3L59.8 53.9L60.1 50.6L60.4 47.3L60.7 44.1L61.0 41.0L61.3 38.0L61.5 35.1L61.8 32.4L62.1 29.9L62.4 27.6L62.7 25.5L63.0 23.6L63.3 22.0L63.5 20.5L63.8 19.4L64.1 18.5L64.4 17.9L64.7 17.5L65.0 17.5L65.3 17.7L65.6 18.1L65.8 18.9L66.1 19.9L66.4 21.2L66.7 22.7L67.0 24.5L67.3 26.5L67.6 28.7L67.8 31.1L68.1 33.7L68.4 36.5L68.7 39.4L69.0 42.5L69.3 45.7L69.6 48.9L69.8 52.2L70.1 55.6L70.4 59.0L70.7 62.4L71.0 65.8L71.3 69.1L71.6 72.3L71.9 75.5L72.1 78.6L72.4 81.5L72.7 84.3L73.0 86.9L73.3 89.3L73.6 91.5L73.9 93.6L74.1 95.3L74.4 96.9L74.7 98.2L75.0 99.2L75.3 100.0L75.6 100.5L75.9 100.7L76.1 100.6L76.4 100.3L76.7 99.7L77.0 98.8L77.3 97.7L77.6 96.3L77.9 94.6L78.1 92.7L78.4 90.6L78.7 88.3L79.0 85.8L79.3 83.1L79.6 80.3L79.9 77.3L80.2 74.2L80.4 70.9L80.7 67.7L81.0 64.3L81.3 60.9L81.6 57.5L81.9 54.2L82.2 50.8L82.4 47.5L82.7 44.3L83.0 41.2L83.3 38.2L83.6 35.3L83.9 32.6L84.2 30.1L84.4 27.7L84.7 25.6L85.0 23.7L85.3 22.0L85.6 20.6L85.9 19.4L86.2 18.5L86.5 17.9L86.7 17.5L87.0 17.4L87.3 17.6L87.6 18.1L87.9 18.8L88.2 19.8L88.5 21.1L88.7 22.6L89.0 24.3L89.3 26.3L89.6 28.5L89.9 30.9L90.2 33.5L90.5 36.3L90.7 39.2L91.0 42.2L91.3 45.4L91.6 48.6L91.9 52.0L92.2 55.3L92.5 58.7L92.8 62.1L93.0 65.5L93.3 68.8L93.6 72.1L93.9 75.3L94.2 78.3L94.5 81.3L94.8 84.1L95.0 86.7L95.3 89.1L95.6 91.4L95.9 93.4L96.2 95.2L96.5 96.8L96.8 98.1L97.0 99.1L97.3 99.9L97.6 100.4L97.9 100.7L98.2 100.6L98.5 100.3L98.8 99.7L99.1 98.9L99.3 97.8L99.6 96.4L99.9 94.8L100.2 92.9L100.5 90.8L100.8 88.5L101.1 86.0L101.3 83.3L101.6 80.5L101.9 77.5L102.2 74.4L102.5 71.2L102.8 67.9L103.1 64.6L103.3 61.2L103.6 57.8L103.9 54.4L104.2 51.1L104.5 47.8L104.8 44.6L105.1 41.4L105.4 38.4L105.6 35.5L105.9 32.8L106.2 30.3L106.5 27.9L106.8 25.8L107.1 23.8L107.4 22.1L107.6 20.7L107.9 19.5L108.2 18.6L108.5 17.9L108.8 17.5L109.1 17.4L109.4 17.6L109.6 18.0L109.9 18.7L110.2 19.7L110.5 20.9L110.8 22.4L111.1 24.2L111.4 26.1L111.7 28.3L111.9 30.7L112.2 33.3L112.5 36.0L112.8 38.9L113.1 42.0L113.4 45.1L113.7 48.4L113.9 51.7L114.2 55.0L114.5 58.4L114.8 61.8L115.1 65.2L115.4 68.5L115.7 71.8L115.9 75.0L116.2 78.1L116.5 81.0L116.8 83.8L117.1 86.5L117.4 88.9L117.7 91.2L118.0 93.2L118.2 95.1L118.5 96.6L118.8 98.0L119.1 99.1L119.4 99.9L119.7 100.4L120.0 100.7L120.2 100.6L120.5 100.4L120.8 99.8L121.1 99.0L121.4 97.9L121.7 96.5L122.0 94.9L122.2 93.1L122.5 91.0L122.8 88.7L123.1 86.2L123.4 83.6L123.7 80.7L124.0 77.8L124.3 74.7L124.5 71.5L124.8 68.2L125.1 64.9L125.4 61.5L125.7 58.1L126.0 54.7L126.3 51.4L126.5 48.1L126.8 44.8L127.1 41.7L127.4 38.7L127.7 35.8L128.0 33.0L128.3 30.5L128.5 28.1L128.8 25.9L129.1 24.0L129.4 22.3L129.7 20.8L130.0 19.6L130.3 18.6L130.5 18.0L130.8 17.5L131.1 17.4L131.4 17.6L131.7 18.0L132.0 18.7L132.3 19.6L132.6 20.8L132.8 22.3L133.1 24.0L133.4 26.0L133.7 28.1L134.0 30.5L134.3 33.1L134.6 35.8L134.8 38.7L135.1 41.7L135.4 44.9L135.7 48.1L136.0 51.4L136.3 54.8L136.6 58.2L136.8 61.5L137.1 64.9L137.4 68.3L137.7 71.5L138.0 74.7L138.3 77.8L138.6 80.8L138.9 83.6L139.1 86.3L139.4 88.7L139.7 91.0L140.0 93.1L140.3 94.9L140.6 96.5L140.9 97.9L141.1 99.0L141.4 99.8L141.7 100.4L142.0 100.6L142.3 100.7L142.6 100.4L142.9 99.9L143.1 99.0L143.4 98.0L143.7 96.6L144.0 95.0L144.3 93.2L144.6 91.2L144.9 88.9L145.2 86.4L145.4 83.8L145.7 81.0L146.0 78.0L146.3 74.9L146.6 71.8L146.9 68.5L147.2 65.2L147.4 61.8L147.7 58.4L148.0 55.0L148.3 51.6L148.6 48.3L148.9 45.1L149.2 41.9L149.4 38.9L149.7 36.0L150.0 33.3L150.3 30.7L150.6 28.3L150.9 26.1L151.2 24.1L151.5 22.4L151.7 20.9L152.0 19.7L152.3 18.7L152.6 18.0L152.9 17.6L153.2 17.4L153.5 17.5L153.7 17.9L154.0 18.6L154.3 19.5L154.6 20.7L154.9 22.2L155.2 23.9L155.5 25.8L155.7 27.9L156.0 30.3L156.3 32.9L156.6 35.6L156.9 38.5L157.2 41.5L157.5 44.6L157.8 47.8L158.0 51.1L158.3 54.5L158.6 57.9L158.9 61.3L159.2 64.6L159.5 68.0L159.8 71.3L160.0 74.5L160.3 77.6L160.6 80.5L160.9 83.4L161.2 86.0L161.5 88.5L161.8 90.8L162.0 92.9L162.3 94.8L162.6 96.4L162.9 97.8L163.2 98.9L163.5 99.7L163.8 100.3L164.1 100.6L164.3 100.7L164.6 100.4L164.9 99.9L165.2 99.1L165.5 98.1L165.8 96.7L166.1 95.2L166.3 93.4L166.6 91.3L166.9 89.1L167.2 86.6L167.5 84.0L167.8 81.2L168.1 78.3L168.3 75.2L168.6 72.0L168.9 68.8L169.2 65.4L169.5 62.1L169.8 58.7L170.1 55.3L170.4 51.9L170.6 48.6L170.9 45.4L171.2 42.2L171.5 39.2L171.8 36.2L172.1 33.5L172.4 30.9L172.6 28.5L172.9 26.3L173.2 24.3L173.5 22.6L173.8 21.0L174.1 19.8L174.4 18.8L174.6 18.1L174.9 17.6L175.2 17.4L175.5 17.5L175.8 17.9L176.1 18.5L176.4 19.4L176.7 20.6L176.9 22.0L177.2 23.7L177.5 25.6L177.8 27.8L178.1 30.1L178.4 32.6L178.7 35.3L178.9 38.2L179.2 41.2L179.5 44.3L179.8 47.6L180.1 50.9L180.4 54.2L180.7 57.6L180.9 61.0L181.2 64.4L181.5 67.7L181.8 71.0L182.1 74.2L182.4 77.3L182.7 80.3L183.0 83.1L183.2 85.8L183.5 88.3L183.8 90.6L184.1 92.8L184.4 94.6L184.7 96.3L185.0 97.7L185.2 98.8L185.5 99.7L185.8 100.3L186.1 100.6L186.4 100.7L186.7 100.5L187.0 100.0L187.2 99.2L187.5 98.2L187.8 96.9L188.1 95.3L188.4 93.5L188.7 91.5L189.0 89.3L189.2 86.9L189.5 84.2L189.8 81.5L190.1 78.5L190.4 75.5L190.7 72.3L191.0 69.0L191.3 65.7L191.5 62.3L191.8 59.0L192.1 55.6L192.4 52.2L192.7 48.9L193.0 45.6L193.3 42.5L193.5 39.4L193.8 36.5L194.1 33.7L194.4 31.1L194.7 28.7L195.0 26.5L195.3 24.5L195.5 22.7L195.8 21.2L196.1 19.9L196.4 18.9L196.7 18.1L197.0 17.6L197.3 17.4L197.6 17.5L197.8 17.8L198.1 18.5L198.4 19.3L198.7 20.5L199.0 21.9L199.3 23.6L199.6 25.5L199.8 27.6L200.1 29.9L200.4 32.4L200.7 35.1L201.0 38.0L201.3 41.0L201.6 44.1L201.8 47.3L202.1 50.6L202.4 53.9L202.7 57.3L203.0 60.7L203.3 64.1L203.6 67.4L203.9 70.7L204.1 73.9L204.4 77.1L204.7 80.1L205.0 82.9L205.3 85.6L205.6 88.1L205.9 90.5L206.1 92.6L206.4 94.5L206.7 96.1L207.0 97.6L207.3 98.7L207.6 99.6L207.9 100.2L208.1 100.6L208.4 100.7L208.7 100.5L209.0 100.0L209.3 99.3L209.6 98.3L209.9 97.0L210.2 95.5L210.4 93.7L210.7 91.7L211.0 89.5L211.3 87.1L211.6 84.5L211.9 81.7L212.2 78.8L212.4 75.7L212.7 72.6L213.0 69.3L213.3 66.0L213.6 62.6L213.9 59.2L214.2 55.8L214.4 52.5L214.7 49.2L215.0 45.9L215.3 42.7L215.6 39.7L215.9 36.7L216.2 33.9L216.5 31.3L216.7 28.9L217.0 26.6L217.3 24.6L217.6 22.8L217.9 21.3L218.2 20.0L218.5 18.9L218.7 18.2L219.0 17.7L219.3 17.4L219.6 17.5L219.9 17.8L220.2 18.4L220.5 19.3L220.7 20.4L221.0 21.8L221.3 23.4L221.6 25.3L221.9 27.4L222.2 29.7L222.5 32.2L222.8 34.9L223.0 37.7L223.3 40.7L223.6 43.8L223.9 47.0L224.2 50.3L224.5 53.6L224.8 57.0L225.0 60.4L225.3 63.8L225.6 67.2L225.9 70.5L226.2 73.7L226.5 76.8L226.8 79.8L227.0 82.7L227.3 85.4L227.6 87.9L227.9 90.3L228.2 92.4L228.5 94.3L228.8 96.0L229.1 97.5L229.3 98.6L229.6 99.6L229.9 100.2L230.2 100.6L230.5 100.7L230.8 100.5L231.1 100.1L231.3 99.3L231.6 98.3L231.9 97.1L232.2 95.6L232.5 93.8L232.8 91.9L233.1 89.7L233.3 87.3L233.6 84.7L233.9 81.9L234.2 79.0L234.5 76.0L234.8 72.8L235.1 69.6L235.4 66.3L235.6 62.9L235.9 59.5L236.2 56.1L236.5 52.8L236.8 49.4L237.1 46.2L237.4 43.0L237.6 39.9L237.9 37.0L238.2 34.2L238.5 31.5L238.8 29.1L239.1 26.8L239.4 24.8L239.6 23.0L239.9 21.4L240.2 20.1L240.5 19.0L240.8 18.2L241.1 17.7L241.4 17.4L241.6 17.5L241.9 17.8L242.2 18.3L242.5 19.2L242.8 20.3L243.1 21.7L243.4 23.3L243.7 25.1L243.9 27.2L244.2 29.5L244.5 32.0L244.8 34.7L245.1 37.5L245.4 40.5L245.7 43.5L245.9 46.7L246.2 50.0L246.5 53.4L246.8 56.7L247.1 60.1L247.4 63.5L247.7 66.9L247.9 70.2L248.2 73.4L248.5 76.5L248.8 79.6L249.1 82.4L249.4 85.2L249.7 87.7L250.0 90.1L250.2 92.2L250.5 94.2L250.8 95.9L251.1 97.3L251.4 98.5L251.7 99.5L252.0 100.2L252.2 100.6L252.5 100.7L252.8 100.5L253.1 100.1L253.4 99.4L253.7 98.4L254.0 97.2L254.2 95.7L254.5 94.0L254.8 92.0L255.1 89.9L255.4 87.5L255.7 84.9L256.0 82.2L256.3 79.3L256.5 76.2L256.8 73.1L257.1 69.9L257.4 66.6L257.7 63.2L258.0 59.8L258.3 56.4L258.5 53.0L258.8 49.7L259.1 46.4L259.4 43.2L259.7 40.2L260.0 37.2L260.3 34.4L260.5 31.7L260.8 29.3L261.1 27.0L261.4 24.9L261.7 23.1L262.0 21.5L262.3 20.2L262.6 19.1L262.8 18.3L263.1 17.7L263.4 17.4L263.7 17.4L264.0 17.7L264.3 18.3L264.6 19.1L264.8 20.2L265.1 21.5L265.4 23.1L265.7 25.0L266.0 27.0L266.3 29.3L266.6 31.8L266.8 34.4L267.1 37.2L267.4 40.2L267.7 43.3L268.0 46.5L268.3 49.7L268.6 53.1L268.9 56.5L269.1 59.9L269.4 63.2L269.7 66.6L270.0 69.9L270.3 73.1L270.6 76.3L270.9 79.3L271.1 82.2L271.4 85.0L271.7 87.5L272.0 89.9L272.3 92.1L272.6 94.0L272.9 95.8L273.1 97.2L273.4 98.5L273.7 99.4L274.0 100.1L274.3 100.5L274.6 100.7L274.9 100.6L275.2 100.2L275.4 99.5L275.7 98.5L276.0 97.3L276.3 95.9L276.6 94.2L276.9 92.2L277.2 90.1L277.4 87.7L277.7 85.1L278.0 82.4L278.3 79.5L278.6 76.5L278.9 73.4L279.2 70.1L279.4 66.8L279.7 63.5L280.0 60.1L280.3 56.7L280.6 53.3L280.9 50.0L281.2 46.7L281.5 43.5L281.7 40.4L282.0 37.4L282.3 34.6L282.6 31.9L282.9 29.5L283.2 27.2L283.5 25.1L283.7 23.3L284.0 21.6L284.3 20.3L284.6 19.2L284.9 18.3L285.2 17.8L285.5 17.5L285.7 17.4L286.0 17.7L286.3 18.2L286.6 19.0L286.9 20.1L287.2 21.4L287.5 23.0L287.8 24.8L288.0 26.8L288.3 29.1L288.6 31.6L288.9 34.2L289.2 37.0L289.5 39.9L289.8 43.0L290.0 46.2L290.3 49.5L290.6 52.8L290.9 56.2L291.2 59.6L291.5 63.0L291.8 66.3L292.0 69.6L292.3 72.9L292.6 76.0L292.9 79.1L293.2 82.0L293.5 84.7L293.8 87.3L294.0 89.7L294.3 91.9L294.6 93.9L294.9 95.6L295.2 97.1L295.5 98.4L295.8 99.4L296.1 100.1L296.3 100.5L296.6 100.7L296.9 100.6L297.2 100.2L297.5 99.5L297.8 98.6L298.1 97.4L298.3 96.0L298.6 94.3L298.9 92.4L299.2 90.2L299.5 87.9L299.8 85.4L300.1 82.6L300.3 79.8L300.6 76.8L300.9 73.6L301.2 70.4L301.5 67.1L301.8 63.8L302.1 60.4L302.4 57.0L302.6 53.6L302.9 50.3L303.2 47.0L303.5 43.8L303.8 40.7L304.1 37.7L304.4 34.8L304.6 32.2L304.9 29.7L305.2 27.4L305.5 25.3L305.8 23.4L306.1 21.8L306.4 20.4L306.6 19.3L306.9 18.4L307.2 17.8L307.5 17.5L307.8 17.4L308.1 17.7L308.4 18.2L308.7 18.9" fill="none" stroke="#3d2caa" stroke-width="1.35" stroke-linejoin="round"/>
<rect x="22.5" y="6.5" width="287.0" height="105.0" fill="none" stroke="#9c9c9c" stroke-width="1"/>
<line x1="22.5" y1="108.21" x2="24.5" y2="108.21" stroke="#999" stroke-width="0.7"/>
<line x1="22.5" y1="95.92" x2="24.5" y2="95.92" stroke="#999" stroke-width="0.7"/>
<line x1="22.5" y1="83.63" x2="24.5" y2="83.63" stroke="#999" stroke-width="0.7"/>
<line x1="22.5" y1="71.34" x2="24.5" y2="71.34" stroke="#999" stroke-width="0.7"/>
<line x1="22.5" y1="59.05" x2="24.5" y2="59.05" stroke="#999" stroke-width="0.7"/>
<line x1="22.5" y1="46.76" x2="24.5" y2="46.76" stroke="#999" stroke-width="0.7"/>
<line x1="22.5" y1="34.47" x2="24.5" y2="34.47" stroke="#999" stroke-width="0.7"/>
<line x1="22.5" y1="22.18" x2="24.5" y2="22.18" stroke="#999" stroke-width="0.7"/>
<line x1="22.5" y1="9.89" x2="24.5" y2="9.89" stroke="#999" stroke-width="0.7"/>
<line x1="22.6" y1="111.5" x2="22.6" y2="109.5" stroke="#999" stroke-width="0.7"/>
<line x1="22.6" y1="6.5" x2="22.6" y2="8.0" stroke="#aaa" stroke-width="0.7"/>
<line x1="77.78" y1="111.5" x2="77.78" y2="109.5" stroke="#999" stroke-width="0.7"/>
<line x1="77.78" y1="6.5" x2="77.78" y2="8.0" stroke="#aaa" stroke-width="0.7"/>
<line x1="132.96" y1="111.5" x2="132.96" y2="109.5" stroke="#999" stroke-width="0.7"/>
<line x1="132.96" y1="6.5" x2="132.96" y2="8.0" stroke="#aaa" stroke-width="0.7"/>
<line x1="188.14" y1="111.5" x2="188.14" y2="109.5" stroke="#999" stroke-width="0.7"/>
<line x1="188.14" y1="6.5" x2="188.14" y2="8.0" stroke="#aaa" stroke-width="0.7"/>
<line x1="243.32" y1="111.5" x2="243.32" y2="109.5" stroke="#999" stroke-width="0.7"/>
<line x1="243.32" y1="6.5" x2="243.32" y2="8.0" stroke="#aaa" stroke-width="0.7"/>
<line x1="298.5" y1="111.5" x2="298.5" y2="109.5" stroke="#999" stroke-width="0.7"/>
<line x1="298.5" y1="6.5" x2="298.5" y2="8.0" stroke="#aaa" stroke-width="0.7"/>
<text x="20.9" y="110.81" font-size="5.6" text-anchor="end" fill="#555" textLength="10.9" lengthAdjust="spacingAndGlyphs">-400</text>
<text x="20.9" y="98.52" font-size="5.6" text-anchor="end" fill="#555" textLength="10.9" lengthAdjust="spacingAndGlyphs">-300</text>
<text x="20.9" y="86.23" font-size="5.6" text-anchor="end" fill="#555" textLength="10.9" lengthAdjust="spacingAndGlyphs">-200</text>
<text x="20.9" y="73.94" font-size="5.6" text-anchor="end" fill="#555" textLength="10.9" lengthAdjust="spacingAndGlyphs">-100</text>
<text x="20.9" y="61.65" font-size="5.6" text-anchor="end" fill="#555" textLength="3.4" lengthAdjust="spacingAndGlyphs">0</text>
<text x="20.9" y="49.36" font-size="5.6" text-anchor="end" fill="#555" textLength="9.2" lengthAdjust="spacingAndGlyphs">100</text>
<text x="20.9" y="37.07" font-size="5.6" text-anchor="end" fill="#555" textLength="9.2" lengthAdjust="spacingAndGlyphs">200</text>
<text x="20.9" y="24.78" font-size="5.6" text-anchor="end" fill="#555" textLength="9.2" lengthAdjust="spacingAndGlyphs">300</text>
<text x="20.9" y="12.49" font-size="5.6" text-anchor="end" fill="#555" textLength="9.2" lengthAdjust="spacingAndGlyphs">400</text>
<text x="22.6" y="118.9" font-size="5.8" text-anchor="middle" fill="#555" textLength="3.6" lengthAdjust="spacingAndGlyphs">0</text>
<text x="77.78" y="118.9" font-size="5.8" text-anchor="middle" fill="#555" textLength="11.2" lengthAdjust="spacingAndGlyphs">0.05</text>
<text x="132.96" y="118.9" font-size="5.8" text-anchor="middle" fill="#555" textLength="7.3" lengthAdjust="spacingAndGlyphs">0.1</text>
<text x="188.14" y="118.9" font-size="5.8" text-anchor="middle" fill="#555" textLength="11.0" lengthAdjust="spacingAndGlyphs">0.15</text>
<text x="243.32" y="118.9" font-size="5.8" text-anchor="middle" fill="#555" textLength="7.4" lengthAdjust="spacingAndGlyphs">0.2</text>
<text x="298.5" y="118.9" font-size="5.8" text-anchor="middle" fill="#555" textLength="11.1" lengthAdjust="spacingAndGlyphs">0.25</text>
<text x="166.2" y="127.3" font-size="7.2" text-anchor="middle" fill="#222" stroke="#222" stroke-width="0.2" textLength="24" lengthAdjust="spacingAndGlyphs">Time (s)</text>
<text transform="translate(9.3,58.2) rotate(-90)" x="0" y="0" font-size="7.2" text-anchor="middle" fill="#222" stroke="#222" stroke-width="0.2" textLength="36" lengthAdjust="spacingAndGlyphs">Voltage (V)</text>
</g>
<g>
<line x1="346.5" y1="89.6" x2="679.0" y2="89.6" stroke="#cdc3cd" stroke-width="1"/>
<line x1="346.5" y1="72.8" x2="679.0" y2="72.8" stroke="#cdc3cd" stroke-width="1"/>
<line x1="346.5" y1="56" x2="679.0" y2="56" stroke="#cdc3cd" stroke-width="1"/>
<line x1="346.5" y1="39.2" x2="679.0" y2="39.2" stroke="#cdc3cd" stroke-width="1"/>
<line x1="346.5" y1="22.4" x2="679.0" y2="22.4" stroke="#cdc3cd" stroke-width="1"/>
<line x1="410.4" y1="6.5" x2="410.4" y2="105.5" stroke="#dadada" stroke-width="1"/>
<line x1="474.5" y1="6.5" x2="474.5" y2="105.5" stroke="#dadada" stroke-width="1"/>
<line x1="538.6" y1="6.5" x2="538.6" y2="105.5" stroke="#dadada" stroke-width="1"/>
<line x1="602.7" y1="6.5" x2="602.7" y2="105.5" stroke="#dadada" stroke-width="1"/>
<line x1="666.8" y1="6.5" x2="666.8" y2="105.5" stroke="#b0b0b4" stroke-width="1"/>
<path d="M346.3 46.4L346.6 45.8L346.9 45.5L347.2 45.3L347.5 45.3L347.8 45.6L348.1 46.0L348.4 46.6L348.7 47.4L349.0 48.4L349.3 49.6L349.6 50.9L349.9 52.5L350.2 54.1L350.5 55.9L350.8 57.8L351.1 59.7L351.4 61.7L351.7 63.7L352.1 65.8L352.4 67.8L352.7 69.9L353.0 72.0L353.3 74.0L353.6 76.0L353.9 77.8L354.2 79.6L354.5 81.3L354.8 82.9L355.1 84.4L355.4 85.7L355.7 86.9L356.0 87.9L356.3 88.8L356.6 89.5L356.9 89.8L357.2 90.0L357.5 90.0L357.8 89.8L358.1 89.5L358.4 88.9L358.7 88.1L359.0 87.1L359.3 86.0L359.6 84.7L359.9 83.1L360.2 81.5L360.5 79.6L360.8 77.6L361.1 75.4L361.4 73.1L361.7 70.6L362.0 68.1L362.3 65.5L362.6 62.8L363.0 60.0L363.3 57.3L363.6 54.5L363.9 51.7L364.2 49.0L364.5 46.2L364.8 43.5L365.1 40.9L365.4 38.4L365.7 35.9L366.0 33.5L366.3 31.3L366.6 29.2L366.9 27.2L367.2 25.4L367.5 23.7L367.8 22.2L368.1 20.9L368.4 19.8L368.7 18.9L369.0 18.2L369.3 17.7L369.6 17.4L369.9 17.3L370.2 17.5L370.5 17.9L370.8 18.5L371.1 19.2L371.4 20.2L371.7 21.4L372.0 22.8L372.3 24.4L372.6 26.1L372.9 28.0L373.2 30.1L373.5 32.3L373.8 34.7L374.2 37.1L374.5 39.7L374.8 42.4L375.1 45.1L375.4 47.9L375.7 50.8L376.0 53.6L376.3 56.5L376.6 59.4L376.9 62.3L377.2 65.2L377.5 68.0L377.8 70.7L378.1 73.4L378.4 76.0L378.7 78.4L379.0 80.8L379.3 83.0L379.6 85.0L379.9 86.9L380.2 88.6L380.5 90.2L380.8 91.5L381.1 92.7L381.4 93.6L381.7 94.4L382.0 94.9L382.3 95.2L382.6 95.4L382.9 95.2L383.2 94.9L383.5 94.4L383.8 93.6L384.1 92.7L384.4 91.5L384.7 90.2L385.0 88.6L385.4 86.9L385.7 85.0L386.0 83.0L386.3 80.8L386.6 78.4L386.9 76.0L387.2 73.4L387.5 70.7L387.8 68.0L388.1 65.2L388.4 62.3L388.7 59.4L389.0 56.5L389.3 53.5L389.6 50.6L389.9 47.8L390.2 44.9L390.5 42.1L390.8 39.4L391.1 36.8L391.4 34.3L391.7 31.9L392.0 29.7L392.3 27.6L392.6 25.6L392.9 23.8L393.2 22.2L393.5 20.8L393.8 19.6L394.1 18.5L394.4 17.7L394.7 17.1L395.0 16.7L395.3 16.5L395.6 16.6L395.9 16.8L396.3 17.3L396.6 17.9L396.9 18.8L397.2 19.9L397.5 21.2L397.8 22.7L398.1 24.4L398.4 26.2L398.7 28.2L399.0 30.4L399.3 32.7L399.6 35.1L399.9 37.7L400.2 40.3L400.5 43.0L400.8 45.8L401.1 48.7L401.4 51.6L401.7 54.5L402.0 57.4L402.3 60.4L402.6 63.3L402.9 66.1L403.2 68.9L403.5 71.7L403.8 74.3L404.1 76.8L404.4 79.3L404.7 81.6L405.0 83.7L405.3 85.8L405.6 87.6L405.9 89.3L406.2 90.8L406.5 92.1L406.8 93.2L407.1 94.0L407.5 94.7L407.8 95.2L408.1 95.5L408.4 95.5L408.7 95.3L409.0 94.9L409.3 94.3L409.6 93.5L409.9 92.5L410.2 91.3L410.5 89.8L410.8 88.2L411.1 86.4L411.4 84.5L411.7 82.4L412.0 80.1L412.3 77.7L412.6 75.2L412.9 72.6L413.2 69.9L413.5 67.1L413.8 64.3L414.1 61.4L414.4 58.5L414.7 55.6L415.0 52.7L415.3 49.7L415.6 46.9L415.9 44.0L416.2 41.3L416.5 38.6L416.8 36.0L417.1 33.6L417.4 31.2L417.7 29.0L418.0 26.9L418.3 25.0L418.7 23.3L419.0 21.7L419.3 20.4L419.6 19.2L419.9 18.2L420.2 17.5L420.5 16.9L420.8 16.6L421.1 16.5L421.4 16.6L421.7 16.9L422.0 17.4L422.3 18.2L422.6 19.1L422.9 20.3L423.2 21.7L423.5 23.2L423.8 24.9L424.1 26.8L424.4 28.9L424.7 31.1L425.0 33.4L425.3 35.9L425.6 38.4L425.9 41.1L426.2 43.9L426.5 46.7L426.8 49.6L427.1 52.5L427.4 55.4L427.7 58.3L428.0 61.2L428.3 64.1L428.6 67.0L428.9 69.8L429.2 72.5L429.6 75.1L429.9 77.6L430.2 80.0L430.5 82.3L430.8 84.4L431.1 86.3L431.4 88.1L431.7 89.7L432.0 91.2L432.3 92.4L432.6 93.4L432.9 94.3L433.2 94.9L433.5 95.3L433.8 95.5L434.1 95.5L434.4 95.2L434.7 94.8L435.0 94.1L435.3 93.2L435.6 92.1L435.9 90.8L436.2 89.4L436.5 87.7L436.8 85.9L437.1 83.9L437.4 81.7L437.7 79.4L438.0 77.0L438.3 74.5L438.6 71.8L438.9 69.1L439.2 66.3L439.5 63.4L439.8 60.5L440.1 57.6L440.4 54.7L440.8 51.8L441.1 48.9L441.4 46.0L441.7 43.2L442.0 40.5L442.3 37.8L442.6 35.3L442.9 32.8L443.2 30.5L443.5 28.3L443.8 26.3L444.1 24.5L444.4 22.8L444.7 21.3L445.0 20.0L445.3 18.9L445.6 18.0L445.9 17.3L446.2 16.8L446.5 16.5L446.8 16.5L447.1 16.7L447.4 17.0L447.7 17.6L448.0 18.5L448.3 19.5L448.6 20.7L448.9 22.1L449.2 23.7L449.5 25.5L449.8 27.4L450.1 29.5L450.4 31.8L450.7 34.1L451.0 36.6L451.3 39.3L451.6 42.0L452.0 44.7L452.3 47.6L452.6 50.4L452.9 53.4L453.2 56.3L453.5 59.2L453.8 62.1L454.1 65.0L454.4 67.8L454.7 70.6L455.0 73.3L455.3 75.9L455.6 78.3L455.9 80.7L456.2 82.9L456.5 85.0L456.8 86.9L457.1 88.6L457.4 90.2L457.7 91.6L458.0 92.7L458.3 93.7L458.6 94.5L458.9 95.0L459.2 95.4L459.5 95.5L459.8 95.4L460.1 95.1L460.4 94.6L460.7 93.8L461.0 92.9L461.3 91.8L461.6 90.4L461.9 88.9L462.2 87.2L462.5 85.3L462.9 83.2L463.2 81.0L463.5 78.7L463.8 76.2L464.1 73.7L464.4 71.0L464.7 68.2L465.0 65.4L465.3 62.6L465.6 59.7L465.9 56.7L466.2 53.8L466.5 50.9L466.8 48.0L467.1 45.1L467.4 42.4L467.7 39.6L468.0 37.0L468.3 34.5L468.6 32.1L468.9 29.8L469.2 27.7L469.5 25.8L469.8 24.0L470.1 22.3L470.4 20.9L470.7 19.6L471.0 18.6L471.3 17.8L471.6 17.1L471.9 16.7L472.2 16.5L472.5 16.5L472.8 16.8L473.1 17.2L473.4 17.9L473.7 18.7L474.1 19.8L474.4 21.1L474.7 22.6L475.0 24.2L475.3 26.0L475.6 28.0L475.9 30.2L476.2 32.5L476.5 34.9L476.8 37.4L477.1 40.1L477.4 42.8L477.7 45.6L478.0 48.4L478.3 51.3L478.6 54.3L478.9 57.2L479.2 60.1L479.5 63.0L479.8 65.9L480.1 68.7L480.4 71.4L480.7 74.1L481.0 76.6L481.3 79.1L481.6 81.4L481.9 83.6L482.2 85.6L482.5 87.4L482.8 89.1L483.1 90.6L483.4 91.9L483.7 93.1L484.0 94.0L484.3 94.7L484.6 95.2L485.0 95.4L485.3 95.5L485.6 95.3L485.9 95.0L486.2 94.4L486.5 93.6L486.8 92.6L487.1 91.4L487.4 90.0L487.7 88.4L488.0 86.6L488.3 84.7L488.6 82.6L488.9 80.3L489.2 78.0L489.5 75.5L489.8 72.9L490.1 70.2L490.4 67.4L490.7 64.6L491.0 61.7L491.3 58.8L491.6 55.8L491.9 52.9L492.2 50.0L492.5 47.1L492.8 44.3L493.1 41.5L493.4 38.8L493.7 36.2L494.0 33.8L494.3 31.4L494.6 29.2L494.9 27.1L495.2 25.2L495.5 23.4L495.8 21.9L496.2 20.5L496.5 19.3L496.8 18.3L497.1 17.5L497.4 17.0L497.7 16.6L498.0 16.5L498.3 16.6L498.6 16.9L498.9 17.4L499.2 18.1L499.5 19.0L499.8 20.2L500.1 21.5L500.4 23.1L500.7 24.8L501.0 26.6L501.3 28.7L501.6 30.9L501.9 33.2L502.2 35.7L502.5 38.2L502.8 40.9L503.1 43.6L503.4 46.4L503.7 49.3L504.0 52.2L504.3 55.1L504.6 58.1L504.9 61.0L505.2 63.9L505.5 66.7L505.8 69.5L506.1 72.2L506.4 74.9L506.7 77.4L507.0 79.8L507.4 82.1L507.7 84.2L508.0 86.2L508.3 88.0L508.6 89.6L508.9 91.1L509.2 92.3L509.5 93.4L509.8 94.2L510.1 94.9L510.4 95.3L510.7 95.5L511.0 95.5L511.3 95.3L511.6 94.8L511.9 94.2L512.2 93.3L512.5 92.2L512.8 91.0L513.1 89.5L513.4 87.9L513.7 86.0L514.0 84.1L514.3 81.9L514.6 79.6L514.9 77.2L515.2 74.7L515.5 72.1L515.8 69.3L516.1 66.5L516.4 63.7L516.7 60.8L517.0 57.9L517.3 54.9L517.6 52.0L517.9 49.1L518.3 46.3L518.6 43.4L518.9 40.7L519.2 38.0L519.5 35.5L519.8 33.0L520.1 30.7L520.4 28.5L520.7 26.5L521.0 24.6L521.3 22.9L521.6 21.4L521.9 20.1L522.2 19.0L522.5 18.1L522.8 17.3L523.1 16.8L523.4 16.6L523.7 16.5L524.0 16.6L524.3 17.0L524.6 17.6L524.9 18.4L525.2 19.4L525.5 20.6L525.8 22.0L526.1 23.6L526.4 25.3L526.7 27.2L527.0 29.3L527.3 31.6L527.6 33.9L527.9 36.4L528.2 39.0L528.5 41.7L528.8 44.5L529.1 47.3L529.5 50.2L529.8 53.1L530.1 56.0L530.4 59.0L530.7 61.9L531.0 64.8L531.3 67.6L531.6 70.4L531.9 73.0L532.2 75.6L532.5 78.1L532.8 80.5L533.1 82.7L533.4 84.8L533.7 86.7L534.0 88.5L534.3 90.1L534.6 91.5L534.9 92.7L535.2 93.6L535.5 94.4L535.8 95.0L536.1 95.4L536.4 95.5L536.7 95.4L537.0 95.1L537.3 94.6L537.6 93.9L537.9 93.0L538.2 91.9L538.5 90.5L538.8 89.0L539.1 87.3L539.4 85.4L539.7 83.4L540.0 81.2L540.3 78.9L540.7 76.5L541.0 73.9L541.3 71.2L541.6 68.5L541.9 65.7L542.2 62.8L542.5 59.9L542.8 57.0L543.1 54.1L543.4 51.1L543.7 48.2L544.0 45.4L544.3 42.6L544.6 39.9L544.9 37.3L545.2 34.7L545.5 32.3L545.8 30.0L546.1 27.9L546.4 25.9L546.7 24.1L547.0 22.5L547.3 21.0L547.6 19.7L547.9 18.7L548.2 17.8L548.5 17.2L548.8 16.7L549.1 16.5L549.4 16.5L549.7 16.7L550.0 17.2L550.3 17.8L550.6 18.7L550.9 19.7L551.2 21.0L551.6 22.4L551.9 24.1L552.2 25.9L552.5 27.9L552.8 30.0L553.1 32.3L553.4 34.7L553.7 37.2L554.0 39.8L554.3 42.5L554.6 45.3L554.9 48.2L555.2 51.1L555.5 54.0L555.8 56.9L556.1 59.9L556.4 62.8L556.7 65.6L557.0 68.4L557.3 71.2L557.6 73.8L557.9 76.4L558.2 78.9L558.5 81.2L558.8 83.4L559.1 85.4L559.4 87.3L559.7 89.0L560.0 90.5L560.3 91.8L560.6 93.0L560.9 93.9L561.2 94.6L561.5 95.1L561.8 95.4L562.1 95.5L562.4 95.4L562.8 95.0L563.1 94.4L563.4 93.7L563.7 92.7L564.0 91.5L564.3 90.1L564.6 88.5L564.9 86.8L565.2 84.8L565.5 82.8L565.8 80.5L566.1 78.2L566.4 75.7L566.7 73.1L567.0 70.4L567.3 67.6L567.6 64.8L567.9 61.9L568.2 59.0L568.5 56.1L568.8 53.2L569.1 50.3L569.4 47.4L569.7 44.5L570.0 41.8L570.3 39.1L570.6 36.5L570.9 34.0L571.2 31.6L571.5 29.4L571.8 27.3L572.1 25.3L572.4 23.6L572.7 22.0L573.0 20.6L573.3 19.4L573.7 18.4L574.0 17.6L574.3 17.0L574.6 16.6L574.9 16.5L575.2 16.6L575.5 16.8L575.8 17.3L576.1 18.0L576.4 19.0L576.7 20.1L577.0 21.4L577.3 22.9L577.6 24.6L577.9 26.5L578.2 28.5L578.5 30.7L578.8 33.0L579.1 35.4L579.4 38.0L579.7 40.6L580.0 43.4L580.3 46.2L580.6 49.1L580.9 52.0L581.2 54.9L581.5 57.8L581.8 60.7L582.1 63.6L582.4 66.5L582.7 69.3L583.0 72.0L583.3 74.6L583.6 77.2L583.9 79.6L584.2 81.9L584.5 84.0L584.9 86.0L585.2 87.8L585.5 89.5L585.8 90.9L586.1 92.2L586.4 93.3L586.7 94.1L587.0 94.8L587.3 95.3L587.6 95.5L587.9 95.5L588.2 95.3L588.5 94.9L588.8 94.2L589.1 93.4L589.4 92.3L589.7 91.1L590.0 89.6L590.3 88.0L590.6 86.2L590.9 84.2L591.2 82.1L591.5 79.8L591.8 77.4L592.1 74.9L592.4 72.3L592.7 69.6L593.0 66.8L593.3 63.9L593.6 61.1L593.9 58.1L594.2 55.2L594.5 52.3L594.8 49.4L595.1 46.5L595.4 43.7L595.7 40.9L596.1 38.3L596.4 35.7L596.7 33.2L597.0 30.9L597.3 28.7L597.6 26.7L597.9 24.8L598.2 23.1L598.5 21.6L598.8 20.2L599.1 19.1L599.4 18.1L599.7 17.4L600.0 16.9L600.3 16.6L600.6 16.5L600.9 16.6L601.2 17.0L601.5 17.5L601.8 18.3L602.1 19.3L602.4 20.5L602.7 21.8L603.0 23.4L603.3 25.1L603.6 27.1L603.9 29.1L604.2 31.4L604.5 33.7L604.8 36.2L605.1 38.8L605.4 41.5L605.7 44.2L606.0 47.1L606.3 49.9L606.6 52.8L607.0 55.8L607.3 58.7L607.6 61.6L607.9 64.5L608.2 67.3L608.5 70.1L608.8 72.8L609.1 75.4L609.4 77.9L609.7 80.3L610.0 82.5L610.3 84.6L610.6 86.6L610.9 88.3L611.2 89.9L611.5 91.3L611.8 92.6L612.1 93.6L612.4 94.4L612.7 95.0L613.0 95.3L613.3 95.5L613.6 95.5L613.9 95.2L614.2 94.7L614.5 94.0L614.8 93.1L615.1 92.0L615.4 90.7L615.7 89.2L616.0 87.5L616.3 85.6L616.6 83.6L616.9 81.4L617.2 79.1L617.5 76.7L617.8 74.1L618.2 71.5L618.5 68.7L618.8 65.9L619.1 63.1L619.4 60.2L619.7 57.2L620.0 54.3L620.3 51.4L620.6 48.5L620.9 45.6L621.2 42.8L621.5 40.1L621.8 37.5L622.1 34.9L622.4 32.5L622.7 30.2L623.0 28.1L623.3 26.1L623.6 24.3L623.9 22.6L624.2 21.1L624.5 19.8L624.8 18.8L625.1 17.9L625.4 17.2L625.7 16.8L626.0 16.5L626.3 16.5L626.6 16.7L626.9 17.1L627.2 17.7L627.5 18.6L627.8 19.6L628.1 20.9L628.4 22.3L628.7 23.9L629.0 25.7L629.4 27.7L629.7 29.8L630.0 32.1L630.3 34.5L630.6 37.0L630.9 39.6L631.2 42.3L631.5 45.1L631.8 47.9L632.1 50.8L632.4 53.7L632.7 56.7L633.0 59.6L633.3 62.5L633.6 65.4L633.9 68.2L634.2 70.9L634.5 73.6L634.8 76.2L635.1 78.6L635.4 81.0L635.7 83.2L636.0 85.2L636.3 87.1L636.6 88.8L636.9 90.4L637.2 91.7L637.5 92.9L637.8 93.8L638.1 94.6L638.4 95.1L638.7 95.4L639.0 95.5L639.3 95.4L639.6 95.1L639.9 94.5L640.3 93.7L640.6 92.8L640.9 91.6L641.2 90.2L641.5 88.7L641.8 86.9L642.1 85.0L642.4 83.0L642.7 80.7L643.0 78.4L643.3 75.9L643.6 73.3L643.9 70.7L644.2 67.9L644.5 65.1L644.8 62.2L645.1 59.3L645.4 56.4L645.7 53.4L646.0 50.5L646.3 47.6L646.6 44.8L646.9 42.0L647.2 39.3L647.5 36.7L647.8 34.2L648.1 31.8L648.4 29.6L648.7 27.5L649.0 25.5L649.3 23.7L649.6 22.1L649.9 20.7L650.2 19.5L650.5 18.5L650.8 17.7L651.1 17.1L651.5 16.7L651.8 16.5L652.1 16.5L652.4 16.8L652.7 17.3L653.0 18.0L653.3 18.9L653.6 20.0L653.9 21.3L654.2 22.8L654.5 24.4L654.8 26.3L655.1 28.3L655.4 30.5L655.7 32.8L656.0 35.2L656.3 37.8L656.6 40.4L656.9 43.1L657.2 45.9L657.5 48.8L657.8 51.7L658.1 54.6L658.4 57.6L658.7 60.5L659.0 63.4L659.3 66.2L659.6 69.0L659.9 71.8L660.2 74.4L660.5 76.9L660.8 79.4L661.1 81.7L661.4 83.8L661.7 85.8L662.0 87.7L662.3 89.3L662.7 90.8L663.0 92.1L663.3 93.2L663.6 94.1L663.9 94.8L664.2 95.2L664.5 95.5L664.8 95.5L665.1 95.3L665.4 94.9L665.7 94.3L666.0 93.5L666.3 92.4L666.6 91.2L666.9 89.8L667.2 88.2L667.5 86.4L667.8 84.4L668.1 82.3L668.4 80.0L668.7 77.6L669.0 75.1L669.3 72.5L669.6 69.8L669.9 67.0L670.2 64.2L670.5 61.3L670.8 58.4L671.1 55.5L671.4 52.5L671.7 49.6L672.0 46.8L672.3 43.9L672.6 41.2L672.9 38.5L673.2 35.9L673.6 33.5L673.9 31.1L674.2 28.9L674.5 26.9L674.8 25.0L675.1 23.2L675.4 21.7L675.7 20.3L676.0 19.2L676.3 18.2L676.6 17.5L676.9 16.9L677.2 16.6L677.5 16.5L677.8 16.6L678.1 16.9L678.4 17.5L678.7 18.2L679.0 19.2" fill="none" stroke="#ebbd48" stroke-width="1.4" stroke-linejoin="round"/>
<path d="M346.3 55.9L346.6 59.2L346.9 62.2L347.2 64.8L347.5 67.2L347.8 69.2L348.1 71.1L348.4 72.6L348.7 74.0L349.0 75.2L349.3 76.1L349.6 76.8L349.9 77.1L350.2 77.1L350.5 76.9L350.8 76.5L351.1 75.9L351.4 75.1L351.7 74.2L352.1 73.0L352.4 71.8L352.7 70.3L353.0 68.7L353.3 67.0L353.6 65.1L353.9 63.1L354.2 61.0L354.5 58.8L354.8 56.5L355.1 54.2L355.4 51.8L355.7 49.3L356.0 46.9L356.3 44.5L356.6 42.0L356.9 39.7L357.2 37.4L357.5 35.2L357.8 33.1L358.1 31.1L358.4 29.2L358.7 27.4L359.0 25.8L359.3 24.3L359.6 23.0L359.9 21.8L360.2 20.8L360.5 20.0L360.8 19.4L361.1 19.0L361.4 19.0L361.7 19.2L362.0 19.5L362.3 20.1L362.6 20.9L363.0 21.8L363.3 23.0L363.6 24.3L363.9 25.8L364.2 27.5L364.5 29.4L364.8 31.4L365.1 33.5L365.4 35.8L365.7 38.2L366.0 40.7L366.3 43.3L366.6 46.0L366.9 48.7L367.2 51.5L367.5 54.4L367.8 57.2L368.1 60.0L368.4 62.9L368.7 65.7L369.0 68.4L369.3 71.1L369.6 73.7L369.9 76.2L370.2 78.6L370.5 80.9L370.8 83.1L371.1 85.1L371.4 86.9L371.7 88.6L372.0 90.1L372.3 91.4L372.6 92.5L372.9 93.4L373.2 94.1L373.5 94.6L373.8 94.9L374.2 95.0L374.5 94.9L374.8 94.5L375.1 93.9L375.4 93.2L375.7 92.2L376.0 91.0L376.3 89.6L376.6 88.1L376.9 86.3L377.2 84.4L377.5 82.4L377.8 80.1L378.1 77.8L378.4 75.3L378.7 72.7L379.0 70.1L379.3 67.3L379.6 64.5L379.9 61.6L380.2 58.7L380.5 55.8L380.8 52.9L381.1 50.0L381.4 47.1L381.7 44.3L382.0 41.5L382.3 38.9L382.6 36.3L382.9 33.8L383.2 31.5L383.5 29.2L383.8 27.2L384.1 25.3L384.4 23.5L384.7 22.0L385.0 20.6L385.4 19.4L385.7 18.4L386.0 17.6L386.3 17.1L386.6 16.7L386.9 16.6L387.2 16.7L387.5 17.0L387.8 17.5L388.1 18.2L388.4 19.2L388.7 20.3L389.0 21.6L389.3 23.1L389.6 24.9L389.9 26.7L390.2 28.8L390.5 31.0L390.8 33.3L391.1 35.7L391.4 38.3L391.7 40.9L392.0 43.7L392.3 46.5L392.6 49.4L392.9 52.3L393.2 55.2L393.5 58.1L393.8 61.0L394.1 63.9L394.4 66.8L394.7 69.6L395.0 72.3L395.3 74.9L395.6 77.4L395.9 79.8L396.3 82.1L396.6 84.2L396.9 86.2L397.2 88.0L397.5 89.6L397.8 91.1L398.1 92.3L398.4 93.4L398.7 94.2L399.0 94.9L399.3 95.3L399.6 95.5L399.9 95.5L400.2 95.3L400.5 94.8L400.8 94.2L401.1 93.3L401.4 92.2L401.7 90.9L402.0 89.5L402.3 87.8L402.6 86.0L402.9 84.0L403.2 81.9L403.5 79.6L403.8 77.2L404.1 74.6L404.4 72.0L404.7 69.3L405.0 66.5L405.3 63.6L405.6 60.7L405.9 57.8L406.2 54.9L406.5 52.0L406.8 49.1L407.1 46.2L407.5 43.4L407.8 40.7L408.1 38.0L408.4 35.4L408.7 33.0L409.0 30.7L409.3 28.5L409.6 26.5L409.9 24.6L410.2 22.9L410.5 21.4L410.8 20.1L411.1 19.0L411.4 18.0L411.7 17.3L412.0 16.8L412.3 16.6L412.6 16.5L412.9 16.6L413.2 17.0L413.5 17.6L413.8 18.4L414.1 19.4L414.4 20.6L414.7 22.0L415.0 23.6L415.3 25.3L415.6 27.3L415.9 29.4L416.2 31.6L416.5 34.0L416.8 36.5L417.1 39.1L417.4 41.8L417.7 44.5L418.0 47.4L418.3 50.2L418.7 53.2L419.0 56.1L419.3 59.0L419.6 61.9L419.9 64.8L420.2 67.6L420.5 70.4L420.8 73.1L421.1 75.7L421.4 78.2L421.7 80.5L422.0 82.8L422.3 84.8L422.6 86.8L422.9 88.5L423.2 90.1L423.5 91.5L423.8 92.7L424.1 93.7L424.4 94.4L424.7 95.0L425.0 95.4L425.3 95.5L425.6 95.4L425.9 95.1L426.2 94.6L426.5 93.9L426.8 93.0L427.1 91.8L427.4 90.5L427.7 89.0L428.0 87.3L428.3 85.4L428.6 83.4L428.9 81.2L429.2 78.9L429.6 76.4L429.9 73.9L430.2 71.2L430.5 68.4L430.8 65.6L431.1 62.8L431.4 59.9L431.7 56.9L432.0 54.0L432.3 51.1L432.6 48.2L432.9 45.3L433.2 42.6L433.5 39.8L433.8 37.2L434.1 34.7L434.4 32.3L434.7 30.0L435.0 27.9L435.3 25.9L435.6 24.1L435.9 22.4L436.2 21.0L436.5 19.7L436.8 18.7L437.1 17.8L437.4 17.2L437.7 16.7L438.0 16.5L438.3 16.5L438.6 16.7L438.9 17.2L439.2 17.8L439.5 18.7L439.8 19.7L440.1 21.0L440.4 22.5L440.8 24.1L441.1 25.9L441.4 27.9L441.7 30.0L442.0 32.3L442.3 34.7L442.6 37.2L442.9 39.9L443.2 42.6L443.5 45.4L443.8 48.2L444.1 51.1L444.4 54.0L444.7 57.0L445.0 59.9L445.3 62.8L445.6 65.7L445.9 68.5L446.2 71.2L446.5 73.9L446.8 76.4L447.1 78.9L447.4 81.2L447.7 83.4L448.0 85.4L448.3 87.3L448.6 89.0L448.9 90.5L449.2 91.9L449.5 93.0L449.8 93.9L450.1 94.6L450.4 95.1L450.7 95.4L451.0 95.5L451.3 95.4L451.6 95.0L452.0 94.4L452.3 93.6L452.6 92.7L452.9 91.5L453.2 90.1L453.5 88.5L453.8 86.7L454.1 84.8L454.4 82.7L454.7 80.5L455.0 78.1L455.3 75.7L455.6 73.1L455.9 70.4L456.2 67.6L456.5 64.8L456.8 61.9L457.1 59.0L457.4 56.0L457.7 53.1L458.0 50.2L458.3 47.3L458.6 44.5L458.9 41.7L459.2 39.0L459.5 36.4L459.8 33.9L460.1 31.6L460.4 29.3L460.7 27.2L461.0 25.3L461.3 23.6L461.6 22.0L461.9 20.6L462.2 19.4L462.5 18.4L462.9 17.6L463.2 17.0L463.5 16.6L463.8 16.5L464.1 16.6L464.4 16.8L464.7 17.3L465.0 18.1L465.3 19.0L465.6 20.1L465.9 21.4L466.2 22.9L466.5 24.6L466.8 26.5L467.1 28.5L467.4 30.7L467.7 33.0L468.0 35.5L468.3 38.0L468.6 40.7L468.9 43.4L469.2 46.2L469.5 49.1L469.8 52.0L470.1 54.9L470.4 57.9L470.7 60.8L471.0 63.7L471.3 66.5L471.6 69.3L471.9 72.0L472.2 74.7L472.5 77.2L472.8 79.6L473.1 81.9L473.4 84.0L473.7 86.0L474.1 87.8L474.4 89.5L474.7 91.0L475.0 92.2L475.3 93.3L475.6 94.2L475.9 94.8L476.2 95.3L476.5 95.5L476.8 95.5L477.1 95.3L477.4 94.9L477.7 94.2L478.0 93.4L478.3 92.3L478.6 91.1L478.9 89.6L479.2 88.0L479.5 86.2L479.8 84.2L480.1 82.1L480.4 79.8L480.7 77.4L481.0 74.9L481.3 72.2L481.6 69.5L481.9 66.7L482.2 63.9L482.5 61.0L482.8 58.1L483.1 55.2L483.4 52.2L483.7 49.3L484.0 46.5L484.3 43.6L484.6 40.9L485.0 38.2L485.3 35.7L485.6 33.2L485.9 30.9L486.2 28.7L486.5 26.6L486.8 24.8L487.1 23.1L487.4 21.5L487.7 20.2L488.0 19.1L488.3 18.1L488.6 17.4L488.9 16.9L489.2 16.6L489.5 16.5L489.8 16.6L490.1 17.0L490.4 17.5L490.7 18.3L491.0 19.3L491.3 20.5L491.6 21.9L491.9 23.4L492.2 25.2L492.5 27.1L492.8 29.2L493.1 31.4L493.4 33.8L493.7 36.2L494.0 38.8L494.3 41.5L494.6 44.3L494.9 47.1L495.2 50.0L495.5 52.9L495.8 55.8L496.2 58.8L496.5 61.7L496.8 64.5L497.1 67.4L497.4 70.2L497.7 72.9L498.0 75.5L498.3 78.0L498.6 80.3L498.9 82.6L499.2 84.7L499.5 86.6L499.8 88.4L500.1 90.0L500.4 91.4L500.7 92.6L501.0 93.6L501.3 94.4L501.6 95.0L501.9 95.3L502.2 95.5L502.5 95.4L502.8 95.2L503.1 94.7L503.4 94.0L503.7 93.1L504.0 92.0L504.3 90.6L504.6 89.1L504.9 87.4L505.2 85.6L505.5 83.6L505.8 81.4L506.1 79.1L506.4 76.6L506.7 74.1L507.0 71.4L507.4 68.7L507.7 65.9L508.0 63.0L508.3 60.1L508.6 57.2L508.9 54.3L509.2 51.3L509.5 48.4L509.8 45.6L510.1 42.8L510.4 40.1L510.7 37.4L511.0 34.9L511.3 32.5L511.6 30.2L511.9 28.0L512.2 26.1L512.5 24.2L512.8 22.6L513.1 21.1L513.4 19.8L513.7 18.7L514.0 17.9L514.3 17.2L514.6 16.8L514.9 16.5L515.2 16.5L515.5 16.7L515.8 17.1L516.1 17.7L516.4 18.6L516.7 19.6L517.0 20.9L517.3 22.3L517.6 23.9L517.9 25.7L518.3 27.7L518.6 29.8L518.9 32.1L519.2 34.5L519.5 37.0L519.8 39.6L520.1 42.3L520.4 45.1L520.7 48.0L521.0 50.9L521.3 53.8L521.6 56.7L521.9 59.6L522.2 62.5L522.5 65.4L522.8 68.2L523.1 71.0L523.4 73.7L523.7 76.2L524.0 78.7L524.3 81.0L524.6 83.2L524.9 85.3L525.2 87.2L525.5 88.9L525.8 90.4L526.1 91.8L526.4 92.9L526.7 93.8L527.0 94.6L527.3 95.1L527.6 95.4L527.9 95.5L528.2 95.4L528.5 95.0L528.8 94.5L529.1 93.7L529.5 92.8L529.8 91.6L530.1 90.2L530.4 88.6L530.7 86.9L531.0 85.0L531.3 82.9L531.6 80.7L531.9 78.4L532.2 75.9L532.5 73.3L532.8 70.6L533.1 67.8L533.4 65.0L533.7 62.1L534.0 59.2L534.3 56.3L534.6 53.4L534.9 50.5L535.2 47.6L535.5 44.7L535.8 42.0L536.1 39.3L536.4 36.7L536.7 34.2L537.0 31.8L537.3 29.5L537.6 27.4L537.9 25.5L538.2 23.7L538.5 22.1L538.8 20.7L539.1 19.5L539.4 18.5L539.7 17.6L540.0 17.0L540.3 16.7L540.7 16.5L541.0 16.5L541.3 16.8L541.6 17.3L541.9 18.0L542.2 18.9L542.5 20.0L542.8 21.3L543.1 22.8L543.4 24.5L543.7 26.3L544.0 28.3L544.3 30.5L544.6 32.8L544.9 35.3L545.2 37.8L545.5 40.5L545.8 43.2L546.1 46.0L546.4 48.9L546.7 51.8L547.0 54.7L547.3 57.6L547.6 60.5L547.9 63.4L548.2 66.3L548.5 69.1L548.8 71.8L549.1 74.4L549.4 77.0L549.7 79.4L550.0 81.7L550.3 83.9L550.6 85.9L550.9 87.7L551.2 89.4L551.6 90.8L551.9 92.1L552.2 93.2L552.5 94.1L552.8 94.8L553.1 95.2L553.4 95.5L553.7 95.5L554.0 95.3L554.3 94.9L554.6 94.3L554.9 93.5L555.2 92.4L555.5 91.2L555.8 89.7L556.1 88.1L556.4 86.3L556.7 84.4L557.0 82.3L557.3 80.0L557.6 77.6L557.9 75.1L558.2 72.5L558.5 69.8L558.8 67.0L559.1 64.1L559.4 61.3L559.7 58.3L560.0 55.4L560.3 52.5L560.6 49.6L560.9 46.7L561.2 43.9L561.5 41.1L561.8 38.5L562.1 35.9L562.4 33.4L562.8 31.1L563.1 28.9L563.4 26.8L563.7 24.9L564.0 23.2L564.3 21.7L564.6 20.3L564.9 19.1L565.2 18.2L565.5 17.4L565.8 16.9L566.1 16.6L566.4 16.5L566.7 16.6L567.0 16.9L567.3 17.5L567.6 18.2L567.9 19.2L568.2 20.4L568.5 21.7L568.8 23.3L569.1 25.0L569.4 26.9L569.7 29.0L570.0 31.2L570.3 33.5L570.6 36.0L570.9 38.6L571.2 41.3L571.5 44.0L571.8 46.9L572.1 49.7L572.4 52.6L572.7 55.6L573.0 58.5L573.3 61.4L573.7 64.3L574.0 67.1L574.3 69.9L574.6 72.6L574.9 75.2L575.2 77.7L575.5 80.1L575.8 82.4L576.1 84.5L576.4 86.4L576.7 88.2L577.0 89.8L577.3 91.2L577.6 92.5L577.9 93.5L578.2 94.3L578.5 94.9L578.8 95.3L579.1 95.5L579.4 95.5L579.7 95.2L580.0 94.7L580.3 94.1L580.6 93.2L580.9 92.1L581.2 90.8L581.5 89.3L581.8 87.6L582.1 85.8L582.4 83.8L582.7 81.6L583.0 79.3L583.3 76.9L583.6 74.3L583.9 71.7L584.2 68.9L584.5 66.1L584.9 63.3L585.2 60.4L585.5 57.5L585.8 54.5L586.1 51.6L586.4 48.7L586.7 45.8L587.0 43.0L587.3 40.3L587.6 37.7L587.9 35.1L588.2 32.7L588.5 30.4L588.8 28.2L589.1 26.2L589.4 24.4L589.7 22.7L590.0 21.2L590.3 19.9L590.6 18.8L590.9 17.9L591.2 17.3L591.5 16.8L591.8 16.5L592.1 16.5L592.4 16.7L592.7 17.1L593.0 17.7L593.3 18.5L593.6 19.5L593.9 20.8L594.2 22.2L594.5 23.8L594.8 25.6L595.1 27.5L595.4 29.6L595.7 31.9L596.1 34.3L596.4 36.8L596.7 39.4L597.0 42.1L597.3 44.9L597.6 47.7L597.9 50.6L598.2 53.5L598.5 56.5L598.8 59.4L599.1 62.3L599.4 65.2L599.7 68.0L600.0 70.7L600.3 73.4L600.6 76.0L600.9 78.5L601.2 80.8L601.5 83.0L601.8 85.1L602.1 87.0L602.4 88.7L602.7 90.3L603.0 91.6L603.3 92.8L603.6 93.8L603.9 94.5L604.2 95.1L604.5 95.4L604.8 95.5L605.1 95.4L605.4 95.1L605.7 94.6L606.0 93.8L606.3 92.8L606.6 91.7L607.0 90.3L607.3 88.8L607.6 87.1L607.9 85.2L608.2 83.1L608.5 80.9L608.8 78.6L609.1 76.1L609.4 73.5L609.7 70.8L610.0 68.1L610.3 65.3L610.6 62.4L610.9 59.5L611.2 56.6L611.5 53.6L611.8 50.7L612.1 47.8L612.4 45.0L612.7 42.2L613.0 39.5L613.3 36.9L613.6 34.4L613.9 32.0L614.2 29.7L614.5 27.6L614.8 25.6L615.1 23.9L615.4 22.2L615.7 20.8L616.0 19.6L616.3 18.5L616.6 17.7L616.9 17.1L617.2 16.7L617.5 16.5L617.8 16.5L618.2 16.8L618.5 17.2L618.8 17.9L619.1 18.8L619.4 19.9L619.7 21.2L620.0 22.7L620.3 24.3L620.6 26.2L620.9 28.2L621.2 30.3L621.5 32.6L621.8 35.0L622.1 37.6L622.4 40.2L622.7 42.9L623.0 45.7L623.3 48.6L623.6 51.5L623.9 54.4L624.2 57.3L624.5 60.3L624.8 63.2L625.1 66.0L625.4 68.8L625.7 71.6L626.0 74.2L626.3 76.8L626.6 79.2L626.9 81.5L627.2 83.7L627.5 85.7L627.8 87.5L628.1 89.2L628.4 90.7L628.7 92.0L629.0 93.1L629.4 94.0L629.7 94.7L630.0 95.2L630.3 95.5L630.6 95.5L630.9 95.3L631.2 94.9L631.5 94.3L631.8 93.5L632.1 92.5L632.4 91.3L632.7 89.9L633.0 88.3L633.3 86.5L633.6 84.6L633.9 82.5L634.2 80.2L634.5 77.8L634.8 75.3L635.1 72.7L635.4 70.0L635.7 67.2L636.0 64.4L636.3 61.5L636.6 58.6L636.9 55.7L637.2 52.7L637.5 49.8L637.8 47.0L638.1 44.1L638.4 41.4L638.7 38.7L639.0 36.1L639.3 33.6L639.6 31.3L639.9 29.1L640.3 27.0L640.6 25.1L640.9 23.3L641.2 21.8L641.5 20.4L641.8 19.2L642.1 18.3L642.4 17.5L642.7 16.9L643.0 16.6L643.3 16.5L643.6 16.6L643.9 16.9L644.2 17.4L644.5 18.2L644.8 19.1L645.1 20.3L645.4 21.6L645.7 23.1L646.0 24.9L646.3 26.7L646.6 28.8L646.9 31.0L647.2 33.3L647.5 35.8L647.8 38.4L648.1 41.0L648.4 43.8L648.7 46.6L649.0 49.5L649.3 52.4L649.6 55.3L649.9 58.2L650.2 61.2L650.5 64.0L650.8 66.9L651.1 69.7L651.5 72.4L651.8 75.0L652.1 77.5L652.4 79.9L652.7 82.2L653.0 84.3L653.3 86.3L653.6 88.1L653.9 89.7L654.2 91.1L654.5 92.4L654.8 93.4L655.1 94.3L655.4 94.9L655.7 95.3L656.0 95.5L656.3 95.5L656.6 95.2L656.9 94.8L657.2 94.1L657.5 93.2L657.8 92.2L658.1 90.9L658.4 89.4L658.7 87.8L659.0 85.9L659.3 83.9L659.6 81.8L659.9 79.5L660.2 77.1L660.5 74.5L660.8 71.9L661.1 69.2L661.4 66.4L661.7 63.5L662.0 60.6L662.3 57.7L662.7 54.8L663.0 51.9L663.3 49.0L663.6 46.1L663.9 43.3L664.2 40.5L664.5 37.9L664.8 35.3L665.1 32.9L665.4 30.6L665.7 28.4L666.0 26.4L666.3 24.5L666.6 22.9L666.9 21.3L667.2 20.0L667.5 18.9L667.8 18.0L668.1 17.3L668.4 16.8L668.7 16.5L669.0 16.5L669.3 16.7L669.6 17.0L669.9 17.6L670.2 18.4L670.5 19.4L670.8 20.6L671.1 22.1L671.4 23.6L671.7 25.4L672.0 27.4L672.3 29.4L672.6 31.7L672.9 34.1L673.2 36.6L673.6 39.2L673.9 41.9L674.2 44.6L674.5 47.5L674.8 50.4L675.1 53.3L675.4 56.2L675.7 59.1L676.0 62.0L676.3 64.9L676.6 67.7L676.9 70.5L677.2 73.2L677.5 75.8L677.8 78.3L678.1 80.6L678.4 82.8L678.7 84.9L679.0 86.8" fill="none" stroke="#cc3a40" stroke-width="1.4" stroke-linejoin="round"/>
<path d="M346.3 51.6L346.6 51.4L346.9 50.8L347.2 50.0L347.5 49.1L347.8 47.9L348.1 46.6L348.4 45.2L348.7 43.6L349.0 42.0L349.3 40.4L349.6 38.6L349.9 37.1L350.2 35.7L350.5 34.3L350.8 33.0L351.1 31.8L351.4 30.7L351.7 29.7L352.1 28.9L352.4 28.1L352.7 27.5L353.0 27.1L353.3 26.8L353.6 26.8L353.9 27.0L354.2 27.3L354.5 27.8L354.8 28.6L355.1 29.4L355.4 30.5L355.7 31.7L356.0 33.2L356.3 34.7L356.6 36.5L356.9 38.4L357.2 40.5L357.5 42.7L357.8 45.1L358.1 47.5L358.4 49.9L358.7 52.5L359.0 55.1L359.3 57.7L359.6 60.4L359.9 63.1L360.2 65.7L360.5 68.4L360.8 71.0L361.1 73.5L361.4 75.9L361.7 78.2L362.0 80.4L362.3 82.4L362.6 84.4L363.0 86.1L363.3 87.7L363.6 89.2L363.9 90.4L364.2 91.5L364.5 92.4L364.8 93.1L365.1 93.5L365.4 93.8L365.7 93.9L366.0 93.7L366.3 93.4L366.6 92.8L366.9 92.1L367.2 91.1L367.5 89.9L367.8 88.6L368.1 87.0L368.4 85.3L368.7 83.4L369.0 81.4L369.3 79.2L369.6 76.9L369.9 74.4L370.2 71.9L370.5 69.2L370.8 66.5L371.1 63.7L371.4 60.9L371.7 58.0L372.0 55.1L372.3 52.2L372.6 49.4L372.9 46.6L373.2 43.8L373.5 41.1L373.8 38.4L374.2 35.9L374.5 33.5L374.8 31.1L375.1 29.0L375.4 26.9L375.7 25.1L376.0 23.3L376.3 21.8L376.6 20.5L376.9 19.3L377.2 18.4L377.5 17.6L377.8 17.1L378.1 16.8L378.4 16.7L378.7 16.8L379.0 17.2L379.3 17.7L379.6 18.5L379.9 19.5L380.2 20.7L380.5 22.0L380.8 23.6L381.1 25.3L381.4 27.3L381.7 29.3L382.0 31.5L382.3 33.9L382.6 36.4L382.9 38.9L383.2 41.6L383.5 44.4L383.8 47.2L384.1 50.1L384.4 53.0L384.7 55.9L385.0 58.8L385.4 61.7L385.7 64.6L386.0 67.4L386.3 70.2L386.6 72.8L386.9 75.4L387.2 77.9L387.5 80.3L387.8 82.5L388.1 84.6L388.4 86.6L388.7 88.3L389.0 89.9L389.3 91.3L389.6 92.5L389.9 93.5L390.2 94.3L390.5 94.9L390.8 95.3L391.1 95.4L391.4 95.4L391.7 95.1L392.0 94.6L392.3 93.9L392.6 93.0L392.9 91.9L393.2 90.6L393.5 89.1L393.8 87.4L394.1 85.5L394.4 83.5L394.7 81.3L395.0 79.0L395.3 76.6L395.6 74.0L395.9 71.4L396.3 68.6L396.6 65.8L396.9 63.0L397.2 60.1L397.5 57.1L397.8 54.2L398.1 51.3L398.4 48.4L398.7 45.5L399.0 42.8L399.3 40.0L399.6 37.4L399.9 34.9L400.2 32.4L400.5 30.2L400.8 28.0L401.1 26.0L401.4 24.2L401.7 22.5L402.0 21.1L402.3 19.8L402.6 18.7L402.9 17.9L403.2 17.2L403.5 16.8L403.8 16.5L404.1 16.5L404.4 16.7L404.7 17.1L405.0 17.8L405.3 18.6L405.6 19.7L405.9 20.9L406.2 22.3L406.5 24.0L406.8 25.8L407.1 27.7L407.5 29.9L407.8 32.1L408.1 34.5L408.4 37.1L408.7 39.7L409.0 42.4L409.3 45.2L409.6 48.0L409.9 50.9L410.2 53.8L410.5 56.8L410.8 59.7L411.1 62.6L411.4 65.5L411.7 68.3L412.0 71.0L412.3 73.7L412.6 76.3L412.9 78.7L413.2 81.1L413.5 83.3L413.8 85.3L414.1 87.2L414.4 88.9L414.7 90.4L415.0 91.8L415.3 92.9L415.6 93.9L415.9 94.6L416.2 95.1L416.5 95.4L416.8 95.5L417.1 95.4L417.4 95.0L417.7 94.5L418.0 93.7L418.3 92.7L418.7 91.6L419.0 90.2L419.3 88.6L419.6 86.9L419.9 85.0L420.2 82.9L420.5 80.7L420.8 78.3L421.1 75.8L421.4 73.2L421.7 70.6L422.0 67.8L422.3 65.0L422.6 62.1L422.9 59.2L423.2 56.3L423.5 53.3L423.8 50.4L424.1 47.5L424.4 44.7L424.7 41.9L425.0 39.2L425.3 36.6L425.6 34.1L425.9 31.7L426.2 29.5L426.5 27.4L426.8 25.5L427.1 23.7L427.4 22.1L427.7 20.7L428.0 19.5L428.3 18.4L428.6 17.6L428.9 17.0L429.2 16.7L429.6 16.5L429.9 16.5L430.2 16.8L430.5 17.3L430.8 18.0L431.1 18.9L431.4 20.0L431.7 21.3L432.0 22.8L432.3 24.5L432.6 26.4L432.9 28.4L433.2 30.5L433.5 32.9L433.8 35.3L434.1 37.8L434.4 40.5L434.7 43.2L435.0 46.0L435.3 48.9L435.6 51.8L435.9 54.7L436.2 57.7L436.5 60.6L436.8 63.5L437.1 66.3L437.4 69.1L437.7 71.9L438.0 74.5L438.3 77.0L438.6 79.4L438.9 81.7L439.2 83.9L439.5 85.9L439.8 87.7L440.1 89.4L440.4 90.9L440.8 92.1L441.1 93.2L441.4 94.1L441.7 94.8L442.0 95.2L442.3 95.5L442.6 95.5L442.9 95.3L443.2 94.9L443.5 94.3L443.8 93.4L444.1 92.4L444.4 91.2L444.7 89.7L445.0 88.1L445.3 86.3L445.6 84.3L445.9 82.2L446.2 80.0L446.5 77.6L446.8 75.1L447.1 72.4L447.4 69.7L447.7 66.9L448.0 64.1L448.3 61.2L448.6 58.3L448.9 55.4L449.2 52.4L449.5 49.5L449.8 46.7L450.1 43.8L450.4 41.1L450.7 38.4L451.0 35.8L451.3 33.4L451.6 31.0L452.0 28.8L452.3 26.8L452.6 24.9L452.9 23.2L453.2 21.6L453.5 20.3L453.8 19.1L454.1 18.2L454.4 17.4L454.7 16.9L455.0 16.6L455.3 16.5L455.6 16.6L455.9 16.9L456.2 17.5L456.5 18.2L456.8 19.2L457.1 20.4L457.4 21.8L457.7 23.3L458.0 25.0L458.3 27.0L458.6 29.0L458.9 31.2L459.2 33.6L459.5 36.1L459.8 38.6L460.1 41.3L460.4 44.1L460.7 46.9L461.0 49.8L461.3 52.7L461.6 55.6L461.9 58.5L462.2 61.5L462.5 64.3L462.9 67.2L463.2 70.0L463.5 72.7L463.8 75.3L464.1 77.8L464.4 80.2L464.7 82.4L465.0 84.5L465.3 86.5L465.6 88.2L465.9 89.9L466.2 91.3L466.5 92.5L466.8 93.5L467.1 94.3L467.4 94.9L467.7 95.3L468.0 95.5L468.3 95.5L468.6 95.2L468.9 94.7L469.2 94.0L469.5 93.1L469.8 92.0L470.1 90.7L470.4 89.2L470.7 87.6L471.0 85.7L471.3 83.7L471.6 81.6L471.9 79.3L472.2 76.8L472.5 74.3L472.8 71.6L473.1 68.9L473.4 66.1L473.7 63.2L474.1 60.3L474.4 57.4L474.7 54.5L475.0 51.6L475.3 48.7L475.6 45.8L475.9 43.0L476.2 40.3L476.5 37.6L476.8 35.1L477.1 32.7L477.4 30.4L477.7 28.2L478.0 26.2L478.3 24.4L478.6 22.7L478.9 21.2L479.2 19.9L479.5 18.8L479.8 17.9L480.1 17.2L480.4 16.8L480.7 16.5L481.0 16.5L481.3 16.7L481.6 17.1L481.9 17.7L482.2 18.5L482.5 19.6L482.8 20.8L483.1 22.2L483.4 23.8L483.7 25.6L484.0 27.6L484.3 29.7L484.6 31.9L485.0 34.3L485.3 36.8L485.6 39.4L485.9 42.1L486.2 44.9L486.5 47.8L486.8 50.7L487.1 53.6L487.4 56.5L487.7 59.4L488.0 62.3L488.3 65.2L488.6 68.0L488.9 70.8L489.2 73.5L489.5 76.0L489.8 78.5L490.1 80.9L490.4 83.1L490.7 85.1L491.0 87.0L491.3 88.8L491.6 90.3L491.9 91.7L492.2 92.8L492.5 93.8L492.8 94.5L493.1 95.1L493.4 95.4L493.7 95.5L494.0 95.4L494.3 95.1L494.6 94.5L494.9 93.8L495.2 92.8L495.5 91.7L495.8 90.3L496.2 88.8L496.5 87.0L496.8 85.1L497.1 83.1L497.4 80.9L497.7 78.5L498.0 76.1L498.3 73.5L498.6 70.8L498.9 68.0L499.2 65.2L499.5 62.4L499.8 59.4L500.1 56.5L500.4 53.6L500.7 50.7L501.0 47.8L501.3 44.9L501.6 42.2L501.9 39.5L502.2 36.8L502.5 34.3L502.8 31.9L503.1 29.7L503.4 27.6L503.7 25.6L504.0 23.8L504.3 22.2L504.6 20.8L504.9 19.6L505.2 18.5L505.5 17.7L505.8 17.1L506.1 16.7L506.4 16.5L506.7 16.5L507.0 16.8L507.4 17.2L507.7 17.9L508.0 18.8L508.3 19.9L508.6 21.2L508.9 22.7L509.2 24.3L509.5 26.2L509.8 28.2L510.1 30.3L510.4 32.6L510.7 35.1L511.0 37.6L511.3 40.3L511.6 43.0L511.9 45.8L512.2 48.6L512.5 51.5L512.8 54.5L513.1 57.4L513.4 60.3L513.7 63.2L514.0 66.1L514.3 68.9L514.6 71.6L514.9 74.3L515.2 76.8L515.5 79.2L515.8 81.5L516.1 83.7L516.4 85.7L516.7 87.6L517.0 89.2L517.3 90.7L517.6 92.0L517.9 93.1L518.3 94.0L518.6 94.7L518.9 95.2L519.2 95.5L519.5 95.5L519.8 95.3L520.1 94.9L520.4 94.3L520.7 93.5L521.0 92.5L521.3 91.3L521.6 89.9L521.9 88.3L522.2 86.5L522.5 84.5L522.8 82.4L523.1 80.2L523.4 77.8L523.7 75.3L524.0 72.7L524.3 70.0L524.6 67.2L524.9 64.4L525.2 61.5L525.5 58.6L525.8 55.6L526.1 52.7L526.4 49.8L526.7 46.9L527.0 44.1L527.3 41.3L527.6 38.6L527.9 36.1L528.2 33.6L528.5 31.2L528.8 29.0L529.1 27.0L529.5 25.1L529.8 23.3L530.1 21.8L530.4 20.4L530.7 19.2L531.0 18.3L531.3 17.5L531.6 16.9L531.9 16.6L532.2 16.5L532.5 16.6L532.8 16.9L533.1 17.4L533.4 18.2L533.7 19.1L534.0 20.3L534.3 21.6L534.6 23.2L534.9 24.9L535.2 26.8L535.5 28.8L535.8 31.0L536.1 33.4L536.4 35.8L536.7 38.4L537.0 41.1L537.3 43.8L537.6 46.7L537.9 49.5L538.2 52.4L538.5 55.4L538.8 58.3L539.1 61.2L539.4 64.1L539.7 66.9L540.0 69.7L540.3 72.4L540.7 75.0L541.0 77.6L541.3 80.0L541.6 82.2L541.9 84.3L542.2 86.3L542.5 88.1L542.8 89.7L543.1 91.2L543.4 92.4L543.7 93.4L544.0 94.3L544.3 94.9L544.6 95.3L544.9 95.5L545.2 95.5L545.5 95.2L545.8 94.8L546.1 94.1L546.4 93.2L546.7 92.1L547.0 90.9L547.3 89.4L547.6 87.7L547.9 85.9L548.2 83.9L548.5 81.8L548.8 79.5L549.1 77.0L549.4 74.5L549.7 71.9L550.0 69.1L550.3 66.3L550.6 63.5L550.9 60.6L551.2 57.7L551.6 54.7L551.9 51.8L552.2 48.9L552.5 46.0L552.8 43.2L553.1 40.5L553.4 37.9L553.7 35.3L554.0 32.9L554.3 30.6L554.6 28.4L554.9 26.4L555.2 24.5L555.5 22.8L555.8 21.3L556.1 20.0L556.4 18.9L556.7 18.0L557.0 17.3L557.3 16.8L557.6 16.5L557.9 16.5L558.2 16.7L558.5 17.0L558.8 17.6L559.1 18.4L559.4 19.5L559.7 20.7L560.0 22.1L560.3 23.7L560.6 25.4L560.9 27.4L561.2 29.5L561.5 31.7L561.8 34.1L562.1 36.6L562.4 39.2L562.8 41.9L563.1 44.7L563.4 47.5L563.7 50.4L564.0 53.3L564.3 56.2L564.6 59.2L564.9 62.1L565.2 65.0L565.5 67.8L565.8 70.6L566.1 73.2L566.4 75.8L566.7 78.3L567.0 80.7L567.3 82.9L567.6 85.0L567.9 86.9L568.2 88.6L568.5 90.2L568.8 91.5L569.1 92.7L569.4 93.7L569.7 94.5L570.0 95.0L570.3 95.4L570.6 95.5L570.9 95.4L571.2 95.1L571.5 94.6L571.8 93.9L572.1 92.9L572.4 91.8L572.7 90.4L573.0 88.9L573.3 87.2L573.7 85.3L574.0 83.3L574.3 81.1L574.6 78.7L574.9 76.3L575.2 73.7L575.5 71.0L575.8 68.3L576.1 65.5L576.4 62.6L576.7 59.7L577.0 56.8L577.3 53.8L577.6 50.9L577.9 48.0L578.2 45.2L578.5 42.4L578.8 39.7L579.1 37.1L579.4 34.5L579.7 32.1L580.0 29.9L580.3 27.8L580.6 25.8L580.9 24.0L581.2 22.4L581.5 20.9L581.8 19.7L582.1 18.6L582.4 17.8L582.7 17.1L583.0 16.7L583.3 16.5L583.6 16.5L583.9 16.8L584.2 17.2L584.5 17.9L584.9 18.7L585.2 19.8L585.5 21.1L585.8 22.5L586.1 24.2L586.4 26.0L586.7 28.0L587.0 30.2L587.3 32.4L587.6 34.9L587.9 37.4L588.2 40.0L588.5 42.7L588.8 45.5L589.1 48.4L589.4 51.3L589.7 54.2L590.0 57.1L590.3 60.1L590.6 63.0L590.9 65.8L591.2 68.6L591.5 71.4L591.8 74.0L592.1 76.6L592.4 79.0L592.7 81.3L593.0 83.5L593.3 85.6L593.6 87.4L593.9 89.1L594.2 90.6L594.5 91.9L594.8 93.0L595.1 94.0L595.4 94.7L595.7 95.2L596.1 95.4L596.4 95.5L596.7 95.4L597.0 95.0L597.3 94.4L597.6 93.6L597.9 92.6L598.2 91.4L598.5 90.0L598.8 88.4L599.1 86.6L599.4 84.7L599.7 82.6L600.0 80.4L600.3 78.0L600.6 75.5L600.9 72.9L601.2 70.2L601.5 67.4L601.8 64.6L602.1 61.7L602.4 58.8L602.7 55.9L603.0 53.0L603.3 50.0L603.6 47.2L603.9 44.3L604.2 41.6L604.5 38.9L604.8 36.3L605.1 33.8L605.4 31.4L605.7 29.2L606.0 27.1L606.3 25.2L606.6 23.5L607.0 21.9L607.3 20.5L607.6 19.3L607.9 18.3L608.2 17.5L608.5 17.0L608.8 16.6L609.1 16.5L609.4 16.6L609.7 16.9L610.0 17.4L610.3 18.1L610.6 19.0L610.9 20.2L611.2 21.5L611.5 23.0L611.8 24.7L612.1 26.6L612.4 28.6L612.7 30.8L613.0 33.2L613.3 35.6L613.6 38.2L613.9 40.8L614.2 43.6L614.5 46.4L614.8 49.3L615.1 52.2L615.4 55.1L615.7 58.0L616.0 60.9L616.3 63.8L616.6 66.7L616.9 69.5L617.2 72.2L617.5 74.8L617.8 77.3L618.2 79.7L618.5 82.0L618.8 84.2L619.1 86.1L619.4 87.9L619.7 89.6L620.0 91.0L620.3 92.3L620.6 93.3L620.9 94.2L621.2 94.8L621.5 95.3L621.8 95.5L622.1 95.5L622.4 95.3L622.7 94.8L623.0 94.2L623.3 93.3L623.6 92.2L623.9 91.0L624.2 89.5L624.5 87.9L624.8 86.1L625.1 84.1L625.4 81.9L625.7 79.7L626.0 77.3L626.3 74.7L626.6 72.1L626.9 69.4L627.2 66.6L627.5 63.7L627.8 60.8L628.1 57.9L628.4 55.0L628.7 52.1L629.0 49.2L629.4 46.3L629.7 43.5L630.0 40.7L630.3 38.1L630.6 35.5L630.9 33.1L631.2 30.8L631.5 28.6L631.8 26.5L632.1 24.7L632.4 23.0L632.7 21.5L633.0 20.1L633.3 19.0L633.6 18.1L633.9 17.4L634.2 16.8L634.5 16.6L634.8 16.5L635.1 16.6L635.4 17.0L635.7 17.6L636.0 18.4L636.3 19.4L636.6 20.6L636.9 21.9L637.2 23.5L637.5 25.3L637.8 27.2L638.1 29.3L638.4 31.5L638.7 33.9L639.0 36.4L639.3 39.0L639.6 41.7L639.9 44.4L640.3 47.3L640.6 50.1L640.9 53.1L641.2 56.0L641.5 58.9L641.8 61.8L642.1 64.7L642.4 67.5L642.7 70.3L643.0 73.0L643.3 75.6L643.6 78.1L643.9 80.5L644.2 82.7L644.5 84.8L644.8 86.7L645.1 88.5L645.4 90.0L645.7 91.4L646.0 92.6L646.3 93.6L646.6 94.4L646.9 95.0L647.2 95.4L647.5 95.5L647.8 95.4L648.1 95.2L648.4 94.7L648.7 93.9L649.0 93.0L649.3 91.9L649.6 90.6L649.9 89.0L650.2 87.3L650.5 85.5L650.8 83.4L651.1 81.3L651.5 78.9L651.8 76.5L652.1 73.9L652.4 71.3L652.7 68.5L653.0 65.7L653.3 62.9L653.6 60.0L653.9 57.0L654.2 54.1L654.5 51.2L654.8 48.3L655.1 45.4L655.4 42.6L655.7 39.9L656.0 37.3L656.3 34.8L656.6 32.4L656.9 30.1L657.2 27.9L657.5 25.9L657.8 24.1L658.1 22.5L658.4 21.0L658.7 19.8L659.0 18.7L659.3 17.8L659.6 17.2L659.9 16.7L660.2 16.5L660.5 16.5L660.8 16.7L661.1 17.2L661.4 17.8L661.7 18.6L662.0 19.7L662.3 21.0L662.7 22.4L663.0 24.0L663.3 25.9L663.6 27.8L663.9 30.0L664.2 32.2L664.5 34.6L664.8 37.2L665.1 39.8L665.4 42.5L665.7 45.3L666.0 48.1L666.3 51.0L666.6 53.9L666.9 56.9L667.2 59.8L667.5 62.7L667.8 65.6L668.1 68.4L668.4 71.1L668.7 73.8L669.0 76.4L669.3 78.8L669.6 81.1L669.9 83.3L670.2 85.4L670.5 87.3L670.8 89.0L671.1 90.5L671.4 91.8L671.7 93.0L672.0 93.9L672.3 94.6L672.6 95.1L672.9 95.4L673.2 95.5L673.6 95.4L673.9 95.0L674.2 94.5L674.5 93.7L674.8 92.7L675.1 91.5L675.4 90.1L675.7 88.5L676.0 86.8L676.3 84.9L676.6 82.8L676.9 80.6L677.2 78.2L677.5 75.7L677.8 73.1L678.1 70.5L678.4 67.7L678.7 64.9L679.0 62.0" fill="none" stroke="#3d2caa" stroke-width="1.4" stroke-linejoin="round"/>
<rect x="346.5" y="6.5" width="332.5" height="99.0" fill="none" stroke="#8c8c8c" stroke-width="1"/>
<line x1="346.5" y1="89.6" x2="349.0" y2="89.6" stroke="#666" stroke-width="0.8"/>
<line x1="346.5" y1="72.8" x2="349.0" y2="72.8" stroke="#666" stroke-width="0.8"/>
<line x1="346.5" y1="56" x2="349.0" y2="56" stroke="#666" stroke-width="0.8"/>
<line x1="346.5" y1="39.2" x2="349.0" y2="39.2" stroke="#666" stroke-width="0.8"/>
<line x1="346.5" y1="22.4" x2="349.0" y2="22.4" stroke="#666" stroke-width="0.8"/>
<line x1="346.3" y1="105.5" x2="346.3" y2="103.0" stroke="#777" stroke-width="0.8"/>
<line x1="346.3" y1="6.5" x2="346.3" y2="8.0" stroke="#999" stroke-width="0.8"/>
<line x1="410.4" y1="105.5" x2="410.4" y2="103.0" stroke="#777" stroke-width="0.8"/>
<line x1="410.4" y1="6.5" x2="410.4" y2="8.0" stroke="#999" stroke-width="0.8"/>
<line x1="474.5" y1="105.5" x2="474.5" y2="103.0" stroke="#777" stroke-width="0.8"/>
<line x1="474.5" y1="6.5" x2="474.5" y2="8.0" stroke="#999" stroke-width="0.8"/>
<line x1="538.6" y1="105.5" x2="538.6" y2="103.0" stroke="#777" stroke-width="0.8"/>
<line x1="538.6" y1="6.5" x2="538.6" y2="8.0" stroke="#999" stroke-width="0.8"/>
<line x1="602.7" y1="105.5" x2="602.7" y2="103.0" stroke="#777" stroke-width="0.8"/>
<line x1="602.7" y1="6.5" x2="602.7" y2="8.0" stroke="#999" stroke-width="0.8"/>
<line x1="666.8" y1="105.5" x2="666.8" y2="103.0" stroke="#777" stroke-width="0.8"/>
<line x1="666.8" y1="6.5" x2="666.8" y2="8.0" stroke="#999" stroke-width="0.8"/>
<text x="344.2" y="92.8" font-size="7.2" text-anchor="end" fill="#555" textLength="12.3" lengthAdjust="spacingAndGlyphs">-100</text>
<text x="344.2" y="76" font-size="7.2" text-anchor="end" fill="#555" textLength="9.6" lengthAdjust="spacingAndGlyphs">-50</text>
<text x="344.2" y="59.2" font-size="7.2" text-anchor="end" fill="#555" textLength="4.2" lengthAdjust="spacingAndGlyphs">0</text>
<text x="344.2" y="42.4" font-size="7.2" text-anchor="end" fill="#555" textLength="7.3" lengthAdjust="spacingAndGlyphs">50</text>
<text x="344.2" y="25.6" font-size="7.2" text-anchor="end" fill="#555" textLength="10.5" lengthAdjust="spacingAndGlyphs">100</text>
<text x="346.3" y="115.5" font-size="7.4" text-anchor="middle" fill="#555" textLength="4.3" lengthAdjust="spacingAndGlyphs">0</text>
<text x="410.4" y="115.5" font-size="7.4" text-anchor="middle" fill="#555" textLength="12.9" lengthAdjust="spacingAndGlyphs">0.05</text>
<text x="474.5" y="115.5" font-size="7.4" text-anchor="middle" fill="#555" textLength="9.2" lengthAdjust="spacingAndGlyphs">0.1</text>
<text x="538.6" y="115.5" font-size="7.4" text-anchor="middle" fill="#555" textLength="12.8" lengthAdjust="spacingAndGlyphs">0.15</text>
<text x="602.7" y="115.5" font-size="7.4" text-anchor="middle" fill="#555" textLength="9.2" lengthAdjust="spacingAndGlyphs">0.2</text>
<text x="666.8" y="115.5" font-size="7.4" text-anchor="middle" fill="#555" textLength="12.9" lengthAdjust="spacingAndGlyphs">0.25</text>
<text x="512.6" y="126.2" font-size="9" text-anchor="middle" fill="#222" stroke="#222" stroke-width="0.15" textLength="29" lengthAdjust="spacingAndGlyphs">Time (s)</text>
<text transform="translate(329.3,55.7) rotate(-90)" x="0" y="0" font-size="9.2" font-weight="bold" text-anchor="middle" fill="#3a3a3a" textLength="45.6" lengthAdjust="spacingAndGlyphs">Current (A)</text>
</g>
<g>
<line x1="25.36" y1="179.5" x2="25.36" y2="349.5" stroke="#eff0f2" stroke-width="0.9"/>
<line x1="31.38" y1="179.5" x2="31.38" y2="349.5" stroke="#eff0f2" stroke-width="0.9"/>
<line x1="37.4" y1="179.5" x2="37.4" y2="349.5" stroke="#e6e8ee" stroke-width="0.9"/>
<line x1="43.42" y1="179.5" x2="43.42" y2="349.5" stroke="#eff0f2" stroke-width="0.9"/>
<line x1="49.44" y1="179.5" x2="49.44" y2="349.5" stroke="#eff0f2" stroke-width="0.9"/>
<line x1="55.46" y1="179.5" x2="55.46" y2="349.5" stroke="#eff0f2" stroke-width="0.9"/>
<line x1="61.48" y1="179.5" x2="61.48" y2="349.5" stroke="#eff0f2" stroke-width="0.9"/>
<line x1="67.5" y1="179.5" x2="67.5" y2="349.5" stroke="#e6e8ee" stroke-width="0.9"/>
<line x1="73.52" y1="179.5" x2="73.52" y2="349.5" stroke="#eff0f2" stroke-width="0.9"/>
<line x1="79.54" y1="179.5" x2="79.54" y2="349.5" stroke="#eff0f2" stroke-width="0.9"/>
<line x1="85.56" y1="179.5" x2="85.56" y2="349.5" stroke="#eff0f2" stroke-width="0.9"/>
<line x1="91.58" y1="179.5" x2="91.58" y2="349.5" stroke="#eff0f2" stroke-width="0.9"/>
<line x1="97.6" y1="179.5" x2="97.6" y2="349.5" stroke="#e6e8ee" stroke-width="0.9"/>
<line x1="103.62" y1="179.5" x2="103.62" y2="349.5" stroke="#eff0f2" stroke-width="0.9"/>
<line x1="109.64" y1="179.5" x2="109.64" y2="349.5" stroke="#eff0f2" stroke-width="0.9"/>
<line x1="115.66" y1="179.5" x2="115.66" y2="349.5" stroke="#eff0f2" stroke-width="0.9"/>
<line x1="121.68" y1="179.5" x2="121.68" y2="349.5" stroke="#eff0f2" stroke-width="0.9"/>
<line x1="127.7" y1="179.5" x2="127.7" y2="349.5" stroke="#e6e8ee" stroke-width="0.9"/>
<line x1="133.72" y1="179.5" x2="133.72" y2="349.5" stroke="#eff0f2" stroke-width="0.9"/>
<line x1="139.74" y1="179.5" x2="139.74" y2="349.5" stroke="#eff0f2" stroke-width="0.9"/>
<line x1="145.76" y1="179.5" x2="145.76" y2="349.5" stroke="#eff0f2" stroke-width="0.9"/>
<line x1="151.78" y1="179.5" x2="151.78" y2="349.5" stroke="#eff0f2" stroke-width="0.9"/>
<line x1="157.8" y1="179.5" x2="157.8" y2="349.5" stroke="#e6e8ee" stroke-width="0.9"/>
<line x1="163.82" y1="179.5" x2="163.82" y2="349.5" stroke="#eff0f2" stroke-width="0.9"/>
<line x1="169.84" y1="179.5" x2="169.84" y2="349.5" stroke="#eff0f2" stroke-width="0.9"/>
<line x1="175.86" y1="179.5" x2="175.86" y2="349.5" stroke="#eff0f2" stroke-width="0.9"/>
<line x1="181.88" y1="179.5" x2="181.88" y2="349.5" stroke="#eff0f2" stroke-width="0.9"/>
<line x1="187.9" y1="179.5" x2="187.9" y2="349.5" stroke="#d8dae0" stroke-width="0.9"/>
<line x1="193.92" y1="179.5" x2="193.92" y2="349.5" stroke="#eff0f2" stroke-width="0.9"/>
<line x1="199.94" y1="179.5" x2="199.94" y2="349.5" stroke="#eff0f2" stroke-width="0.9"/>
<line x1="205.96" y1="179.5" x2="205.96" y2="349.5" stroke="#eff0f2" stroke-width="0.9"/>
<line x1="211.98" y1="179.5" x2="211.98" y2="349.5" stroke="#eff0f2" stroke-width="0.9"/>
<line x1="218" y1="179.5" x2="218" y2="349.5" stroke="#e6e8ee" stroke-width="0.9"/>
<line x1="224.02" y1="179.5" x2="224.02" y2="349.5" stroke="#eff0f2" stroke-width="0.9"/>
<line x1="230.04" y1="179.5" x2="230.04" y2="349.5" stroke="#eff0f2" stroke-width="0.9"/>
<line x1="236.06" y1="179.5" x2="236.06" y2="349.5" stroke="#eff0f2" stroke-width="0.9"/>
<line x1="242.08" y1="179.5" x2="242.08" y2="349.5" stroke="#eff0f2" stroke-width="0.9"/>
<line x1="248.1" y1="179.5" x2="248.1" y2="349.5" stroke="#cbcdd3" stroke-width="0.9"/>
<line x1="254.12" y1="179.5" x2="254.12" y2="349.5" stroke="#eff0f2" stroke-width="0.9"/>
<line x1="260.14" y1="179.5" x2="260.14" y2="349.5" stroke="#eff0f2" stroke-width="0.9"/>
<line x1="266.16" y1="179.5" x2="266.16" y2="349.5" stroke="#eff0f2" stroke-width="0.9"/>
<line x1="272.18" y1="179.5" x2="272.18" y2="349.5" stroke="#eff0f2" stroke-width="0.9"/>
<line x1="278.2" y1="179.5" x2="278.2" y2="349.5" stroke="#e6e8ee" stroke-width="0.9"/>
<line x1="284.22" y1="179.5" x2="284.22" y2="349.5" stroke="#eff0f2" stroke-width="0.9"/>
<line x1="290.24" y1="179.5" x2="290.24" y2="349.5" stroke="#eff0f2" stroke-width="0.9"/>
<line x1="296.26" y1="179.5" x2="296.26" y2="349.5" stroke="#eff0f2" stroke-width="0.9"/>
<line x1="302.28" y1="179.5" x2="302.28" y2="349.5" stroke="#eff0f2" stroke-width="0.9"/>
<line x1="308.3" y1="179.5" x2="308.3" y2="349.5" stroke="#e6e8ee" stroke-width="0.9"/>
<line x1="314.32" y1="179.5" x2="314.32" y2="349.5" stroke="#eff0f2" stroke-width="0.9"/>
<line x1="320.34" y1="179.5" x2="320.34" y2="349.5" stroke="#eff0f2" stroke-width="0.9"/>
<line x1="326.36" y1="179.5" x2="326.36" y2="349.5" stroke="#eff0f2" stroke-width="0.9"/>
<line x1="332.38" y1="179.5" x2="332.38" y2="349.5" stroke="#eff0f2" stroke-width="0.9"/>
<line x1="22.5" y1="343.46" x2="338.5" y2="343.46" stroke="#eff0f2" stroke-width="0.9"/>
<line x1="22.5" y1="337.13" x2="338.5" y2="337.13" stroke="#eff0f2" stroke-width="0.9"/>
<line x1="22.5" y1="330.79" x2="338.5" y2="330.79" stroke="#eff0f2" stroke-width="0.9"/>
<line x1="22.5" y1="324.46" x2="338.5" y2="324.46" stroke="#eff0f2" stroke-width="0.9"/>
<line x1="22.5" y1="318.12" x2="338.5" y2="318.12" stroke="#e2e3e7" stroke-width="0.9"/>
<line x1="22.5" y1="311.78" x2="338.5" y2="311.78" stroke="#eff0f2" stroke-width="0.9"/>
<line x1="22.5" y1="305.45" x2="338.5" y2="305.45" stroke="#eff0f2" stroke-width="0.9"/>
<line x1="22.5" y1="299.11" x2="338.5" y2="299.11" stroke="#eff0f2" stroke-width="0.9"/>
<line x1="22.5" y1="292.78" x2="338.5" y2="292.78" stroke="#eff0f2" stroke-width="0.9"/>
<line x1="22.5" y1="286.44" x2="338.5" y2="286.44" stroke="#e2e3e7" stroke-width="0.9"/>
<line x1="22.5" y1="280.1" x2="338.5" y2="280.1" stroke="#eff0f2" stroke-width="0.9"/>
<line x1="22.5" y1="273.77" x2="338.5" y2="273.77" stroke="#eff0f2" stroke-width="0.9"/>
<line x1="22.5" y1="267.43" x2="338.5" y2="267.43" stroke="#eff0f2" stroke-width="0.9"/>
<line x1="22.5" y1="261.1" x2="338.5" y2="261.1" stroke="#eff0f2" stroke-width="0.9"/>
<line x1="22.5" y1="254.76" x2="338.5" y2="254.76" stroke="#e2e3e7" stroke-width="0.9"/>
<line x1="22.5" y1="248.42" x2="338.5" y2="248.42" stroke="#eff0f2" stroke-width="0.9"/>
<line x1="22.5" y1="242.09" x2="338.5" y2="242.09" stroke="#eff0f2" stroke-width="0.9"/>
<line x1="22.5" y1="235.75" x2="338.5" y2="235.75" stroke="#eff0f2" stroke-width="0.9"/>
<line x1="22.5" y1="229.42" x2="338.5" y2="229.42" stroke="#eff0f2" stroke-width="0.9"/>
<line x1="22.5" y1="223.08" x2="338.5" y2="223.08" stroke="#e2e3e7" stroke-width="0.9"/>
<line x1="22.5" y1="216.74" x2="338.5" y2="216.74" stroke="#eff0f2" stroke-width="0.9"/>
<line x1="22.5" y1="210.41" x2="338.5" y2="210.41" stroke="#eff0f2" stroke-width="0.9"/>
<line x1="22.5" y1="204.07" x2="338.5" y2="204.07" stroke="#eff0f2" stroke-width="0.9"/>
<line x1="22.5" y1="197.74" x2="338.5" y2="197.74" stroke="#eff0f2" stroke-width="0.9"/>
<line x1="22.5" y1="191.4" x2="338.5" y2="191.4" stroke="#e2e3e7" stroke-width="0.9"/>
<line x1="22.5" y1="185.06" x2="338.5" y2="185.06" stroke="#eff0f2" stroke-width="0.9"/>
<rect x="36.05" y="348.37" width="2.7" height="1.43" fill="#0c62a0" stroke="#1c3048" stroke-width="0.55"/>
<rect x="41.07" y="348.19" width="2.7" height="1.61" fill="#0c62a0" stroke="#1c3048" stroke-width="0.55"/>
<rect x="46.08" y="348.01" width="2.7" height="1.79" fill="#0c62a0" stroke="#1c3048" stroke-width="0.55"/>
<rect x="51.1" y="179.5" width="2.7" height="170.3" fill="#0c62a0" stroke="#1c3048" stroke-width="0.55"/>
<rect x="56.12" y="348.37" width="2.7" height="1.43" fill="#0c62a0" stroke="#1c3048" stroke-width="0.55"/>
<rect x="61.13" y="348.19" width="2.7" height="1.61" fill="#0c62a0" stroke="#1c3048" stroke-width="0.55"/>
<rect x="66.15" y="348.55" width="2.7" height="1.25" fill="#0c62a0" stroke="#1c3048" stroke-width="0.55"/>
<rect x="71.17" y="347.1" width="2.7" height="2.7" fill="#0c62a0" stroke="#1c3048" stroke-width="0.55"/>
<rect x="76.18" y="348.37" width="2.7" height="1.43" fill="#0c62a0" stroke="#1c3048" stroke-width="0.55"/>
<rect x="81.2" y="348.37" width="2.7" height="1.43" fill="#0c62a0" stroke="#1c3048" stroke-width="0.55"/>
<rect x="86.22" y="347.28" width="2.7" height="2.52" fill="#0c62a0" stroke="#1c3048" stroke-width="0.55"/>
<rect x="91.23" y="347.46" width="2.7" height="2.34" fill="#0c62a0" stroke="#1c3048" stroke-width="0.55"/>
<rect x="96.25" y="348.01" width="2.7" height="1.79" fill="#0c62a0" stroke="#1c3048" stroke-width="0.55"/>
<rect x="101.27" y="347.64" width="2.7" height="2.16" fill="#0c62a0" stroke="#1c3048" stroke-width="0.55"/>
<rect x="106.28" y="348.37" width="2.7" height="1.43" fill="#0c62a0" stroke="#1c3048" stroke-width="0.55"/>
<rect x="111.3" y="333.8" width="2.7" height="16" fill="#0c62a0" stroke="#1c3048" stroke-width="0.55"/>
<rect x="116.32" y="347.28" width="2.7" height="2.52" fill="#0c62a0" stroke="#1c3048" stroke-width="0.55"/>
<rect x="121.33" y="348.55" width="2.7" height="1.25" fill="#0c62a0" stroke="#1c3048" stroke-width="0.55"/>
<rect x="126.35" y="347.64" width="2.7" height="2.16" fill="#0c62a0" stroke="#1c3048" stroke-width="0.55"/>
<rect x="131.37" y="348.19" width="2.7" height="1.61" fill="#0c62a0" stroke="#1c3048" stroke-width="0.55"/>
<rect x="136.38" y="347.82" width="2.7" height="1.98" fill="#0c62a0" stroke="#1c3048" stroke-width="0.55"/>
<rect x="141.4" y="346.55" width="2.7" height="3.25" fill="#0c62a0" stroke="#1c3048" stroke-width="0.55"/>
<rect x="146.42" y="347.46" width="2.7" height="2.34" fill="#0c62a0" stroke="#1c3048" stroke-width="0.55"/>
<rect x="151.43" y="348.55" width="2.7" height="1.25" fill="#0c62a0" stroke="#1c3048" stroke-width="0.55"/>
<rect x="156.45" y="348.74" width="2.7" height="1.06" fill="#0c62a0" stroke="#1c3048" stroke-width="0.55"/>
<rect x="161.47" y="347.82" width="2.7" height="1.98" fill="#0c62a0" stroke="#1c3048" stroke-width="0.55"/>
<rect x="166.48" y="347.46" width="2.7" height="2.34" fill="#0c62a0" stroke="#1c3048" stroke-width="0.55"/>
<rect x="171.5" y="347.28" width="2.7" height="2.52" fill="#0c62a0" stroke="#1c3048" stroke-width="0.55"/>
<rect x="176.52" y="348.37" width="2.7" height="1.43" fill="#0c62a0" stroke="#1c3048" stroke-width="0.55"/>
<rect x="181.53" y="347.46" width="2.7" height="2.34" fill="#0c62a0" stroke="#1c3048" stroke-width="0.55"/>
<rect x="186.55" y="347.46" width="2.7" height="2.34" fill="#0c62a0" stroke="#1c3048" stroke-width="0.55"/>
<rect x="191.57" y="348.55" width="2.7" height="1.25" fill="#0c62a0" stroke="#1c3048" stroke-width="0.55"/>
<rect x="196.58" y="347.46" width="2.7" height="2.34" fill="#0c62a0" stroke="#1c3048" stroke-width="0.55"/>
<rect x="201.6" y="344" width="2.7" height="5.8" fill="#0c62a0" stroke="#1c3048" stroke-width="0.55"/>
<rect x="206.62" y="347.46" width="2.7" height="2.34" fill="#0c62a0" stroke="#1c3048" stroke-width="0.55"/>
<rect x="211.63" y="348.55" width="2.7" height="1.25" fill="#0c62a0" stroke="#1c3048" stroke-width="0.55"/>
<rect x="216.65" y="348.19" width="2.7" height="1.61" fill="#0c62a0" stroke="#1c3048" stroke-width="0.55"/>
<rect x="221.67" y="348.19" width="2.7" height="1.61" fill="#0c62a0" stroke="#1c3048" stroke-width="0.55"/>
<rect x="226.68" y="347.46" width="2.7" height="2.34" fill="#0c62a0" stroke="#1c3048" stroke-width="0.55"/>
<rect x="231.7" y="347.64" width="2.7" height="2.16" fill="#0c62a0" stroke="#1c3048" stroke-width="0.55"/>
<rect x="236.72" y="347.82" width="2.7" height="1.98" fill="#0c62a0" stroke="#1c3048" stroke-width="0.55"/>
<rect x="241.73" y="348.74" width="2.7" height="1.06" fill="#0c62a0" stroke="#1c3048" stroke-width="0.55"/>
<rect x="246.75" y="346.73" width="2.7" height="3.07" fill="#0c62a0" stroke="#1c3048" stroke-width="0.55"/>
<rect x="251.77" y="346.91" width="2.7" height="2.89" fill="#0c62a0" stroke="#1c3048" stroke-width="0.55"/>
<rect x="256.78" y="348.55" width="2.7" height="1.25" fill="#0c62a0" stroke="#1c3048" stroke-width="0.55"/>
<rect x="261.8" y="346.37" width="2.7" height="3.43" fill="#0c62a0" stroke="#1c3048" stroke-width="0.55"/>
<rect x="266.82" y="347.82" width="2.7" height="1.98" fill="#0c62a0" stroke="#1c3048" stroke-width="0.55"/>
<rect x="271.83" y="348.55" width="2.7" height="1.25" fill="#0c62a0" stroke="#1c3048" stroke-width="0.55"/>
<rect x="276.85" y="346.73" width="2.7" height="3.07" fill="#0c62a0" stroke="#1c3048" stroke-width="0.55"/>
<rect x="281.87" y="348.55" width="2.7" height="1.25" fill="#0c62a0" stroke="#1c3048" stroke-width="0.55"/>
<rect x="286.88" y="348.55" width="2.7" height="1.25" fill="#0c62a0" stroke="#1c3048" stroke-width="0.55"/>
<rect x="291.9" y="347.28" width="2.7" height="2.52" fill="#0c62a0" stroke="#1c3048" stroke-width="0.55"/>
<rect x="296.92" y="348.37" width="2.7" height="1.43" fill="#0c62a0" stroke="#1c3048" stroke-width="0.55"/>
<rect x="301.93" y="348.55" width="2.7" height="1.25" fill="#0c62a0" stroke="#1c3048" stroke-width="0.55"/>
<rect x="306.95" y="348.55" width="2.7" height="1.25" fill="#0c62a0" stroke="#1c3048" stroke-width="0.55"/>
<rect x="311.97" y="348.55" width="2.7" height="1.25" fill="#0c62a0" stroke="#1c3048" stroke-width="0.55"/>
<rect x="316.98" y="348.55" width="2.7" height="1.25" fill="#0c62a0" stroke="#1c3048" stroke-width="0.55"/>
<rect x="322" y="347.28" width="2.7" height="2.52" fill="#0c62a0" stroke="#1c3048" stroke-width="0.55"/>
<rect x="327.02" y="346.73" width="2.7" height="3.07" fill="#0c62a0" stroke="#1c3048" stroke-width="0.55"/>
<rect x="332.03" y="347.82" width="2.7" height="1.98" fill="#0c62a0" stroke="#1c3048" stroke-width="0.55"/>
<rect x="22.5" y="179.5" width="316.0" height="170.0" fill="none" stroke="#b4b6bc" stroke-width="1"/>
<line x1="37.4" y1="349.5" x2="37.4" y2="345.7" stroke="#555" stroke-width="0.7"/>
<line x1="37.4" y1="179.5" x2="37.4" y2="183.3" stroke="#777" stroke-width="0.7"/>
<line x1="67.5" y1="349.5" x2="67.5" y2="345.7" stroke="#555" stroke-width="0.7"/>
<line x1="67.5" y1="179.5" x2="67.5" y2="183.3" stroke="#777" stroke-width="0.7"/>
<line x1="97.6" y1="349.5" x2="97.6" y2="345.7" stroke="#555" stroke-width="0.7"/>
<line x1="97.6" y1="179.5" x2="97.6" y2="183.3" stroke="#777" stroke-width="0.7"/>
<line x1="127.7" y1="349.5" x2="127.7" y2="345.7" stroke="#555" stroke-width="0.7"/>
<line x1="127.7" y1="179.5" x2="127.7" y2="183.3" stroke="#777" stroke-width="0.7"/>
<line x1="157.8" y1="349.5" x2="157.8" y2="345.7" stroke="#555" stroke-width="0.7"/>
<line x1="157.8" y1="179.5" x2="157.8" y2="183.3" stroke="#777" stroke-width="0.7"/>
<line x1="187.9" y1="349.5" x2="187.9" y2="345.7" stroke="#555" stroke-width="0.7"/>
<line x1="187.9" y1="179.5" x2="187.9" y2="183.3" stroke="#777" stroke-width="0.7"/>
<line x1="218" y1="349.5" x2="218" y2="345.7" stroke="#555" stroke-width="0.7"/>
<line x1="218" y1="179.5" x2="218" y2="183.3" stroke="#777" stroke-width="0.7"/>
<line x1="248.1" y1="349.5" x2="248.1" y2="345.7" stroke="#555" stroke-width="0.7"/>
<line x1="248.1" y1="179.5" x2="248.1" y2="183.3" stroke="#777" stroke-width="0.7"/>
<line x1="278.2" y1="349.5" x2="278.2" y2="345.7" stroke="#555" stroke-width="0.7"/>
<line x1="278.2" y1="179.5" x2="278.2" y2="183.3" stroke="#777" stroke-width="0.7"/>
<line x1="308.3" y1="349.5" x2="308.3" y2="345.7" stroke="#555" stroke-width="0.7"/>
<line x1="308.3" y1="179.5" x2="308.3" y2="183.3" stroke="#777" stroke-width="0.7"/>
<line x1="338.4" y1="349.5" x2="338.4" y2="345.7" stroke="#555" stroke-width="0.7"/>
<line x1="338.4" y1="179.5" x2="338.4" y2="183.3" stroke="#777" stroke-width="0.7"/>
<line x1="22.5" y1="349.8" x2="25.5" y2="349.8" stroke="#888" stroke-width="0.7"/>
<line x1="338.5" y1="349.8" x2="335.5" y2="349.8" stroke="#888" stroke-width="0.7"/>
<line x1="22.5" y1="318.12" x2="25.5" y2="318.12" stroke="#888" stroke-width="0.7"/>
<line x1="338.5" y1="318.12" x2="335.5" y2="318.12" stroke="#888" stroke-width="0.7"/>
<line x1="22.5" y1="286.44" x2="25.5" y2="286.44" stroke="#888" stroke-width="0.7"/>
<line x1="338.5" y1="286.44" x2="335.5" y2="286.44" stroke="#888" stroke-width="0.7"/>
<line x1="22.5" y1="254.76" x2="25.5" y2="254.76" stroke="#888" stroke-width="0.7"/>
<line x1="338.5" y1="254.76" x2="335.5" y2="254.76" stroke="#888" stroke-width="0.7"/>
<line x1="22.5" y1="223.08" x2="25.5" y2="223.08" stroke="#888" stroke-width="0.7"/>
<line x1="338.5" y1="223.08" x2="335.5" y2="223.08" stroke="#888" stroke-width="0.7"/>
<line x1="22.5" y1="191.4" x2="25.5" y2="191.4" stroke="#888" stroke-width="0.7"/>
<line x1="338.5" y1="191.4" x2="335.5" y2="191.4" stroke="#888" stroke-width="0.7"/>
<text x="37.4" y="361" font-size="8.8" text-anchor="middle" fill="#3a3a3a" textLength="4.2" lengthAdjust="spacingAndGlyphs">0</text>
<text x="67.5" y="361" font-size="8.8" text-anchor="middle" fill="#3a3a3a" textLength="11.6" lengthAdjust="spacingAndGlyphs">100</text>
<text x="97.6" y="361" font-size="8.8" text-anchor="middle" fill="#3a3a3a" textLength="11.6" lengthAdjust="spacingAndGlyphs">200</text>
<text x="127.7" y="361" font-size="8.8" text-anchor="middle" fill="#3a3a3a" textLength="11.6" lengthAdjust="spacingAndGlyphs">300</text>
<text x="157.8" y="361" font-size="8.8" text-anchor="middle" fill="#3a3a3a" textLength="11.6" lengthAdjust="spacingAndGlyphs">400</text>
<text x="187.9" y="361" font-size="8.8" text-anchor="middle" fill="#3a3a3a" textLength="11.6" lengthAdjust="spacingAndGlyphs">500</text>
<text x="218" y="361" font-size="8.8" text-anchor="middle" fill="#3a3a3a" textLength="11.6" lengthAdjust="spacingAndGlyphs">600</text>
<text x="248.1" y="361" font-size="8.8" text-anchor="middle" fill="#3a3a3a" textLength="11.6" lengthAdjust="spacingAndGlyphs">700</text>
<text x="278.2" y="361" font-size="8.8" text-anchor="middle" fill="#3a3a3a" textLength="11.6" lengthAdjust="spacingAndGlyphs">800</text>
<text x="308.3" y="361" font-size="8.8" text-anchor="middle" fill="#3a3a3a" textLength="11.6" lengthAdjust="spacingAndGlyphs">900</text>
<text x="338.4" y="361" font-size="8.8" text-anchor="middle" fill="#3a3a3a" textLength="14.6" lengthAdjust="spacingAndGlyphs">1000</text>
<text x="15.6" y="352.8" font-size="8.6" fill="#333" textLength="3.8" lengthAdjust="spacingAndGlyphs">0</text>
<text x="15.6" y="321.12" font-size="8.6" fill="#333" textLength="3.8" lengthAdjust="spacingAndGlyphs">1</text>
<text x="15.6" y="289.44" font-size="8.6" fill="#333" textLength="3.8" lengthAdjust="spacingAndGlyphs">2</text>
<text x="15.6" y="257.76" font-size="8.6" fill="#333" textLength="3.8" lengthAdjust="spacingAndGlyphs">3</text>
<text x="15.6" y="226.08" font-size="8.6" fill="#333" textLength="3.8" lengthAdjust="spacingAndGlyphs">4</text>
<text x="15.6" y="194.4" font-size="8.6" fill="#333" textLength="3.8" lengthAdjust="spacingAndGlyphs">5</text>
<text x="106.5" y="175.4" font-size="8.2" font-weight="bold" fill="#111" stroke="#111" stroke-width="0.15" textLength="147.7" lengthAdjust="spacingAndGlyphs">Fundamental (50Hz) = 338.8 , THD= 0.64%</text>
<text x="180.5" y="371.8" font-size="8" text-anchor="middle" fill="#3a3a3a" stroke="#3a3a3a" stroke-width="0.15" textLength="50.5" lengthAdjust="spacingAndGlyphs">Frequency (Hz)</text>
<text transform="translate(10.9,264.5) rotate(-90)" x="0" y="0" font-size="8" text-anchor="middle" fill="#333" stroke="#333" stroke-width="0.15" textLength="99" lengthAdjust="spacingAndGlyphs">Mag (% of Fundamental)</text>
</g>
<g>
<line x1="376.23" y1="180.5" x2="376.23" y2="349.5" stroke="#eff0f2" stroke-width="0.9"/>
<line x1="381.91" y1="180.5" x2="381.91" y2="349.5" stroke="#eff0f2" stroke-width="0.9"/>
<line x1="387.6" y1="180.5" x2="387.6" y2="349.5" stroke="#e6e8ee" stroke-width="0.9"/>
<line x1="393.29" y1="180.5" x2="393.29" y2="349.5" stroke="#eff0f2" stroke-width="0.9"/>
<line x1="398.97" y1="180.5" x2="398.97" y2="349.5" stroke="#eff0f2" stroke-width="0.9"/>
<line x1="404.66" y1="180.5" x2="404.66" y2="349.5" stroke="#eff0f2" stroke-width="0.9"/>
<line x1="410.34" y1="180.5" x2="410.34" y2="349.5" stroke="#eff0f2" stroke-width="0.9"/>
<line x1="416.03" y1="180.5" x2="416.03" y2="349.5" stroke="#e6e8ee" stroke-width="0.9"/>
<line x1="421.72" y1="180.5" x2="421.72" y2="349.5" stroke="#eff0f2" stroke-width="0.9"/>
<line x1="427.4" y1="180.5" x2="427.4" y2="349.5" stroke="#eff0f2" stroke-width="0.9"/>
<line x1="433.09" y1="180.5" x2="433.09" y2="349.5" stroke="#eff0f2" stroke-width="0.9"/>
<line x1="438.77" y1="180.5" x2="438.77" y2="349.5" stroke="#eff0f2" stroke-width="0.9"/>
<line x1="444.46" y1="180.5" x2="444.46" y2="349.5" stroke="#e6e8ee" stroke-width="0.9"/>
<line x1="450.15" y1="180.5" x2="450.15" y2="349.5" stroke="#eff0f2" stroke-width="0.9"/>
<line x1="455.83" y1="180.5" x2="455.83" y2="349.5" stroke="#eff0f2" stroke-width="0.9"/>
<line x1="461.52" y1="180.5" x2="461.52" y2="349.5" stroke="#eff0f2" stroke-width="0.9"/>
<line x1="467.2" y1="180.5" x2="467.2" y2="349.5" stroke="#eff0f2" stroke-width="0.9"/>
<line x1="472.89" y1="180.5" x2="472.89" y2="349.5" stroke="#e6e8ee" stroke-width="0.9"/>
<line x1="478.58" y1="180.5" x2="478.58" y2="349.5" stroke="#eff0f2" stroke-width="0.9"/>
<line x1="484.26" y1="180.5" x2="484.26" y2="349.5" stroke="#eff0f2" stroke-width="0.9"/>
<line x1="489.95" y1="180.5" x2="489.95" y2="349.5" stroke="#eff0f2" stroke-width="0.9"/>
<line x1="495.63" y1="180.5" x2="495.63" y2="349.5" stroke="#eff0f2" stroke-width="0.9"/>
<line x1="501.32" y1="180.5" x2="501.32" y2="349.5" stroke="#e6e8ee" stroke-width="0.9"/>
<line x1="507.01" y1="180.5" x2="507.01" y2="349.5" stroke="#eff0f2" stroke-width="0.9"/>
<line x1="512.69" y1="180.5" x2="512.69" y2="349.5" stroke="#eff0f2" stroke-width="0.9"/>
<line x1="518.38" y1="180.5" x2="518.38" y2="349.5" stroke="#eff0f2" stroke-width="0.9"/>
<line x1="524.06" y1="180.5" x2="524.06" y2="349.5" stroke="#eff0f2" stroke-width="0.9"/>
<line x1="529.75" y1="180.5" x2="529.75" y2="349.5" stroke="#e6e8ee" stroke-width="0.9"/>
<line x1="535.44" y1="180.5" x2="535.44" y2="349.5" stroke="#eff0f2" stroke-width="0.9"/>
<line x1="541.12" y1="180.5" x2="541.12" y2="349.5" stroke="#eff0f2" stroke-width="0.9"/>
<line x1="546.81" y1="180.5" x2="546.81" y2="349.5" stroke="#eff0f2" stroke-width="0.9"/>
<line x1="552.49" y1="180.5" x2="552.49" y2="349.5" stroke="#eff0f2" stroke-width="0.9"/>
<line x1="558.18" y1="180.5" x2="558.18" y2="349.5" stroke="#e6e8ee" stroke-width="0.9"/>
<line x1="563.87" y1="180.5" x2="563.87" y2="349.5" stroke="#eff0f2" stroke-width="0.9"/>
<line x1="569.55" y1="180.5" x2="569.55" y2="349.5" stroke="#eff0f2" stroke-width="0.9"/>
<line x1="575.24" y1="180.5" x2="575.24" y2="349.5" stroke="#eff0f2" stroke-width="0.9"/>
<line x1="580.92" y1="180.5" x2="580.92" y2="349.5" stroke="#eff0f2" stroke-width="0.9"/>
<line x1="586.61" y1="180.5" x2="586.61" y2="349.5" stroke="#cbcdd3" stroke-width="0.9"/>
<line x1="592.3" y1="180.5" x2="592.3" y2="349.5" stroke="#eff0f2" stroke-width="0.9"/>
<line x1="597.98" y1="180.5" x2="597.98" y2="349.5" stroke="#eff0f2" stroke-width="0.9"/>
<line x1="603.67" y1="180.5" x2="603.67" y2="349.5" stroke="#eff0f2" stroke-width="0.9"/>
<line x1="609.35" y1="180.5" x2="609.35" y2="349.5" stroke="#eff0f2" stroke-width="0.9"/>
<line x1="615.04" y1="180.5" x2="615.04" y2="349.5" stroke="#e6e8ee" stroke-width="0.9"/>
<line x1="620.73" y1="180.5" x2="620.73" y2="349.5" stroke="#eff0f2" stroke-width="0.9"/>
<line x1="626.41" y1="180.5" x2="626.41" y2="349.5" stroke="#eff0f2" stroke-width="0.9"/>
<line x1="632.1" y1="180.5" x2="632.1" y2="349.5" stroke="#eff0f2" stroke-width="0.9"/>
<line x1="637.78" y1="180.5" x2="637.78" y2="349.5" stroke="#eff0f2" stroke-width="0.9"/>
<line x1="643.47" y1="180.5" x2="643.47" y2="349.5" stroke="#e6e8ee" stroke-width="0.9"/>
<line x1="649.16" y1="180.5" x2="649.16" y2="349.5" stroke="#eff0f2" stroke-width="0.9"/>
<line x1="654.84" y1="180.5" x2="654.84" y2="349.5" stroke="#eff0f2" stroke-width="0.9"/>
<line x1="660.53" y1="180.5" x2="660.53" y2="349.5" stroke="#eff0f2" stroke-width="0.9"/>
<line x1="666.21" y1="180.5" x2="666.21" y2="349.5" stroke="#eff0f2" stroke-width="0.9"/>
<line x1="373.5" y1="343.4" x2="672.0" y2="343.4" stroke="#eff0f2" stroke-width="0.9"/>
<line x1="373.5" y1="337" x2="672.0" y2="337" stroke="#eff0f2" stroke-width="0.9"/>
<line x1="373.5" y1="330.6" x2="672.0" y2="330.6" stroke="#eff0f2" stroke-width="0.9"/>
<line x1="373.5" y1="324.2" x2="672.0" y2="324.2" stroke="#eff0f2" stroke-width="0.9"/>
<line x1="373.5" y1="317.8" x2="672.0" y2="317.8" stroke="#e2e3e7" stroke-width="0.9"/>
<line x1="373.5" y1="311.4" x2="672.0" y2="311.4" stroke="#eff0f2" stroke-width="0.9"/>
<line x1="373.5" y1="305" x2="672.0" y2="305" stroke="#eff0f2" stroke-width="0.9"/>
<line x1="373.5" y1="298.6" x2="672.0" y2="298.6" stroke="#eff0f2" stroke-width="0.9"/>
<line x1="373.5" y1="292.2" x2="672.0" y2="292.2" stroke="#eff0f2" stroke-width="0.9"/>
<line x1="373.5" y1="285.8" x2="672.0" y2="285.8" stroke="#e2e3e7" stroke-width="0.9"/>
<line x1="373.5" y1="279.4" x2="672.0" y2="279.4" stroke="#eff0f2" stroke-width="0.9"/>
<line x1="373.5" y1="273" x2="672.0" y2="273" stroke="#eff0f2" stroke-width="0.9"/>
<line x1="373.5" y1="266.6" x2="672.0" y2="266.6" stroke="#eff0f2" stroke-width="0.9"/>
<line x1="373.5" y1="260.2" x2="672.0" y2="260.2" stroke="#eff0f2" stroke-width="0.9"/>
<line x1="373.5" y1="253.8" x2="672.0" y2="253.8" stroke="#e2e3e7" stroke-width="0.9"/>
<line x1="373.5" y1="247.4" x2="672.0" y2="247.4" stroke="#eff0f2" stroke-width="0.9"/>
<line x1="373.5" y1="241" x2="672.0" y2="241" stroke="#eff0f2" stroke-width="0.9"/>
<line x1="373.5" y1="234.6" x2="672.0" y2="234.6" stroke="#eff0f2" stroke-width="0.9"/>
<line x1="373.5" y1="228.2" x2="672.0" y2="228.2" stroke="#eff0f2" stroke-width="0.9"/>
<line x1="373.5" y1="221.8" x2="672.0" y2="221.8" stroke="#e2e3e7" stroke-width="0.9"/>
<line x1="373.5" y1="215.4" x2="672.0" y2="215.4" stroke="#eff0f2" stroke-width="0.9"/>
<line x1="373.5" y1="209" x2="672.0" y2="209" stroke="#eff0f2" stroke-width="0.9"/>
<line x1="373.5" y1="202.6" x2="672.0" y2="202.6" stroke="#eff0f2" stroke-width="0.9"/>
<line x1="373.5" y1="196.2" x2="672.0" y2="196.2" stroke="#eff0f2" stroke-width="0.9"/>
<line x1="373.5" y1="189.8" x2="672.0" y2="189.8" stroke="#e2e3e7" stroke-width="0.9"/>
<line x1="373.5" y1="183.4" x2="672.0" y2="183.4" stroke="#eff0f2" stroke-width="0.9"/>
<rect x="386.4" y="348.73" width="2.4" height="1.07" fill="#0c62a0" stroke="#1c3048" stroke-width="0.55"/>
<rect x="391.14" y="348.18" width="2.4" height="1.62" fill="#0c62a0" stroke="#1c3048" stroke-width="0.55"/>
<rect x="395.88" y="348.18" width="2.4" height="1.62" fill="#0c62a0" stroke="#1c3048" stroke-width="0.55"/>
<rect x="400.62" y="180.5" width="2.4" height="169.3" fill="#0c62a0" stroke="#1c3048" stroke-width="0.55"/>
<rect x="405.35" y="348.36" width="2.4" height="1.44" fill="#0c62a0" stroke="#1c3048" stroke-width="0.55"/>
<rect x="410.09" y="348.18" width="2.4" height="1.62" fill="#0c62a0" stroke="#1c3048" stroke-width="0.55"/>
<rect x="414.83" y="348.66" width="2.4" height="1.14" fill="#0c62a0" stroke="#1c3048" stroke-width="0.55"/>
<rect x="419.57" y="347.63" width="2.4" height="2.17" fill="#0c62a0" stroke="#1c3048" stroke-width="0.55"/>
<rect x="424.31" y="348.55" width="2.4" height="1.25" fill="#0c62a0" stroke="#1c3048" stroke-width="0.55"/>
<rect x="429.05" y="348.36" width="2.4" height="1.44" fill="#0c62a0" stroke="#1c3048" stroke-width="0.55"/>
<rect x="433.78" y="348" width="2.4" height="1.8" fill="#0c62a0" stroke="#1c3048" stroke-width="0.55"/>
<rect x="438.52" y="348.55" width="2.4" height="1.25" fill="#0c62a0" stroke="#1c3048" stroke-width="0.55"/>
<rect x="443.26" y="348.73" width="2.4" height="1.07" fill="#0c62a0" stroke="#1c3048" stroke-width="0.55"/>
<rect x="448" y="347.26" width="2.4" height="2.54" fill="#0c62a0" stroke="#1c3048" stroke-width="0.55"/>
<rect x="452.74" y="348.36" width="2.4" height="1.44" fill="#0c62a0" stroke="#1c3048" stroke-width="0.55"/>
<rect x="457.48" y="333.8" width="2.4" height="16" fill="#0c62a0" stroke="#1c3048" stroke-width="0.55"/>
<rect x="462.21" y="347.26" width="2.4" height="2.54" fill="#0c62a0" stroke="#1c3048" stroke-width="0.55"/>
<rect x="466.95" y="348.18" width="2.4" height="1.62" fill="#0c62a0" stroke="#1c3048" stroke-width="0.55"/>
<rect x="471.69" y="347.26" width="2.4" height="2.54" fill="#0c62a0" stroke="#1c3048" stroke-width="0.55"/>
<rect x="476.43" y="348.73" width="2.4" height="1.07" fill="#0c62a0" stroke="#1c3048" stroke-width="0.55"/>
<rect x="481.17" y="347.26" width="2.4" height="2.54" fill="#0c62a0" stroke="#1c3048" stroke-width="0.55"/>
<rect x="485.91" y="346.52" width="2.4" height="3.28" fill="#0c62a0" stroke="#1c3048" stroke-width="0.55"/>
<rect x="490.64" y="348.55" width="2.4" height="1.25" fill="#0c62a0" stroke="#1c3048" stroke-width="0.55"/>
<rect x="495.38" y="348.73" width="2.4" height="1.07" fill="#0c62a0" stroke="#1c3048" stroke-width="0.55"/>
<rect x="500.12" y="348" width="2.4" height="1.8" fill="#0c62a0" stroke="#1c3048" stroke-width="0.55"/>
<rect x="504.86" y="348" width="2.4" height="1.8" fill="#0c62a0" stroke="#1c3048" stroke-width="0.55"/>
<rect x="509.6" y="347.81" width="2.4" height="1.99" fill="#0c62a0" stroke="#1c3048" stroke-width="0.55"/>
<rect x="514.34" y="345.79" width="2.4" height="4.01" fill="#0c62a0" stroke="#1c3048" stroke-width="0.55"/>
<rect x="519.07" y="347.81" width="2.4" height="1.99" fill="#0c62a0" stroke="#1c3048" stroke-width="0.55"/>
<rect x="523.81" y="348.36" width="2.4" height="1.44" fill="#0c62a0" stroke="#1c3048" stroke-width="0.55"/>
<rect x="528.55" y="348.66" width="2.4" height="1.14" fill="#0c62a0" stroke="#1c3048" stroke-width="0.55"/>
<rect x="533.29" y="348.18" width="2.4" height="1.62" fill="#0c62a0" stroke="#1c3048" stroke-width="0.55"/>
<rect x="538.03" y="348.36" width="2.4" height="1.44" fill="#0c62a0" stroke="#1c3048" stroke-width="0.55"/>
<rect x="542.76" y="343.95" width="2.4" height="5.85" fill="#0c62a0" stroke="#1c3048" stroke-width="0.55"/>
<rect x="547.5" y="347.44" width="2.4" height="2.36" fill="#0c62a0" stroke="#1c3048" stroke-width="0.55"/>
<rect x="552.24" y="348.36" width="2.4" height="1.44" fill="#0c62a0" stroke="#1c3048" stroke-width="0.55"/>
<rect x="556.98" y="347.63" width="2.4" height="2.17" fill="#0c62a0" stroke="#1c3048" stroke-width="0.55"/>
<rect x="561.72" y="347.63" width="2.4" height="2.17" fill="#0c62a0" stroke="#1c3048" stroke-width="0.55"/>
<rect x="566.46" y="347.63" width="2.4" height="2.17" fill="#0c62a0" stroke="#1c3048" stroke-width="0.55"/>
<rect x="571.19" y="347.63" width="2.4" height="2.17" fill="#0c62a0" stroke="#1c3048" stroke-width="0.55"/>
<rect x="575.93" y="348.18" width="2.4" height="1.62" fill="#0c62a0" stroke="#1c3048" stroke-width="0.55"/>
<rect x="580.67" y="348.36" width="2.4" height="1.44" fill="#0c62a0" stroke="#1c3048" stroke-width="0.55"/>
<rect x="585.41" y="348.55" width="2.4" height="1.25" fill="#0c62a0" stroke="#1c3048" stroke-width="0.55"/>
<rect x="590.15" y="348" width="2.4" height="1.8" fill="#0c62a0" stroke="#1c3048" stroke-width="0.55"/>
<rect x="594.89" y="347.08" width="2.4" height="2.72" fill="#0c62a0" stroke="#1c3048" stroke-width="0.55"/>
<rect x="599.62" y="346.89" width="2.4" height="2.91" fill="#0c62a0" stroke="#1c3048" stroke-width="0.55"/>
<rect x="604.36" y="348.92" width="2.4" height="0.88" fill="#0c62a0" stroke="#1c3048" stroke-width="0.55"/>
<rect x="609.1" y="348" width="2.4" height="1.8" fill="#0c62a0" stroke="#1c3048" stroke-width="0.55"/>
<rect x="613.84" y="346.52" width="2.4" height="3.28" fill="#0c62a0" stroke="#1c3048" stroke-width="0.55"/>
<rect x="618.58" y="348.55" width="2.4" height="1.25" fill="#0c62a0" stroke="#1c3048" stroke-width="0.55"/>
<rect x="623.32" y="348.18" width="2.4" height="1.62" fill="#0c62a0" stroke="#1c3048" stroke-width="0.55"/>
<rect x="628.05" y="347.44" width="2.4" height="2.36" fill="#0c62a0" stroke="#1c3048" stroke-width="0.55"/>
<rect x="632.79" y="348.55" width="2.4" height="1.25" fill="#0c62a0" stroke="#1c3048" stroke-width="0.55"/>
<rect x="637.53" y="348.55" width="2.4" height="1.25" fill="#0c62a0" stroke="#1c3048" stroke-width="0.55"/>
<rect x="642.27" y="348.73" width="2.4" height="1.07" fill="#0c62a0" stroke="#1c3048" stroke-width="0.55"/>
<rect x="647.01" y="348.55" width="2.4" height="1.25" fill="#0c62a0" stroke="#1c3048" stroke-width="0.55"/>
<rect x="651.75" y="348.73" width="2.4" height="1.07" fill="#0c62a0" stroke="#1c3048" stroke-width="0.55"/>
<rect x="656.48" y="346.71" width="2.4" height="3.09" fill="#0c62a0" stroke="#1c3048" stroke-width="0.55"/>
<rect x="661.22" y="347.63" width="2.4" height="2.17" fill="#0c62a0" stroke="#1c3048" stroke-width="0.55"/>
<rect x="665.96" y="348.18" width="2.4" height="1.62" fill="#0c62a0" stroke="#1c3048" stroke-width="0.55"/>
<rect x="373.5" y="180.5" width="298.5" height="169.0" fill="none" stroke="#b4b6bc" stroke-width="1"/>
<line x1="387.6" y1="349.5" x2="387.6" y2="345.7" stroke="#555" stroke-width="0.7"/>
<line x1="387.6" y1="180.5" x2="387.6" y2="184.3" stroke="#777" stroke-width="0.7"/>
<line x1="416.03" y1="349.5" x2="416.03" y2="345.7" stroke="#555" stroke-width="0.7"/>
<line x1="416.03" y1="180.5" x2="416.03" y2="184.3" stroke="#777" stroke-width="0.7"/>
<line x1="444.46" y1="349.5" x2="444.46" y2="345.7" stroke="#555" stroke-width="0.7"/>
<line x1="444.46" y1="180.5" x2="444.46" y2="184.3" stroke="#777" stroke-width="0.7"/>
<line x1="472.89" y1="349.5" x2="472.89" y2="345.7" stroke="#555" stroke-width="0.7"/>
<line x1="472.89" y1="180.5" x2="472.89" y2="184.3" stroke="#777" stroke-width="0.7"/>
<line x1="501.32" y1="349.5" x2="501.32" y2="345.7" stroke="#555" stroke-width="0.7"/>
<line x1="501.32" y1="180.5" x2="501.32" y2="184.3" stroke="#777" stroke-width="0.7"/>
<line x1="529.75" y1="349.5" x2="529.75" y2="345.7" stroke="#555" stroke-width="0.7"/>
<line x1="529.75" y1="180.5" x2="529.75" y2="184.3" stroke="#777" stroke-width="0.7"/>
<line x1="558.18" y1="349.5" x2="558.18" y2="345.7" stroke="#555" stroke-width="0.7"/>
<line x1="558.18" y1="180.5" x2="558.18" y2="184.3" stroke="#777" stroke-width="0.7"/>
<line x1="586.61" y1="349.5" x2="586.61" y2="345.7" stroke="#555" stroke-width="0.7"/>
<line x1="586.61" y1="180.5" x2="586.61" y2="184.3" stroke="#777" stroke-width="0.7"/>
<line x1="615.04" y1="349.5" x2="615.04" y2="345.7" stroke="#555" stroke-width="0.7"/>
<line x1="615.04" y1="180.5" x2="615.04" y2="184.3" stroke="#777" stroke-width="0.7"/>
<line x1="643.47" y1="349.5" x2="643.47" y2="345.7" stroke="#555" stroke-width="0.7"/>
<line x1="643.47" y1="180.5" x2="643.47" y2="184.3" stroke="#777" stroke-width="0.7"/>
<line x1="671.9" y1="349.5" x2="671.9" y2="345.7" stroke="#555" stroke-width="0.7"/>
<line x1="671.9" y1="180.5" x2="671.9" y2="184.3" stroke="#777" stroke-width="0.7"/>
<line x1="373.5" y1="349.8" x2="376.5" y2="349.8" stroke="#888" stroke-width="0.7"/>
<line x1="672.0" y1="349.8" x2="669.0" y2="349.8" stroke="#888" stroke-width="0.7"/>
<line x1="373.5" y1="317.8" x2="376.5" y2="317.8" stroke="#888" stroke-width="0.7"/>
<line x1="672.0" y1="317.8" x2="669.0" y2="317.8" stroke="#888" stroke-width="0.7"/>
<line x1="373.5" y1="285.8" x2="376.5" y2="285.8" stroke="#888" stroke-width="0.7"/>
<line x1="672.0" y1="285.8" x2="669.0" y2="285.8" stroke="#888" stroke-width="0.7"/>
<line x1="373.5" y1="253.8" x2="376.5" y2="253.8" stroke="#888" stroke-width="0.7"/>
<line x1="672.0" y1="253.8" x2="669.0" y2="253.8" stroke="#888" stroke-width="0.7"/>
<line x1="373.5" y1="221.8" x2="376.5" y2="221.8" stroke="#888" stroke-width="0.7"/>
<line x1="672.0" y1="221.8" x2="669.0" y2="221.8" stroke="#888" stroke-width="0.7"/>
<line x1="373.5" y1="189.8" x2="376.5" y2="189.8" stroke="#888" stroke-width="0.7"/>
<line x1="672.0" y1="189.8" x2="669.0" y2="189.8" stroke="#888" stroke-width="0.7"/>
<text x="387.6" y="361" font-size="8.8" text-anchor="middle" fill="#3a3a3a" textLength="4.2" lengthAdjust="spacingAndGlyphs">0</text>
<text x="416.03" y="361" font-size="8.8" text-anchor="middle" fill="#3a3a3a" textLength="11.6" lengthAdjust="spacingAndGlyphs">100</text>
<text x="444.46" y="361" font-size="8.8" text-anchor="middle" fill="#3a3a3a" textLength="11.6" lengthAdjust="spacingAndGlyphs">200</text>
<text x="472.89" y="361" font-size="8.8" text-anchor="middle" fill="#3a3a3a" textLength="11.6" lengthAdjust="spacingAndGlyphs">300</text>
<text x="501.32" y="361" font-size="8.8" text-anchor="middle" fill="#3a3a3a" textLength="11.6" lengthAdjust="spacingAndGlyphs">400</text>
<text x="529.75" y="361" font-size="8.8" text-anchor="middle" fill="#3a3a3a" textLength="11.6" lengthAdjust="spacingAndGlyphs">500</text>
<text x="558.18" y="361" font-size="8.8" text-anchor="middle" fill="#3a3a3a" textLength="11.6" lengthAdjust="spacingAndGlyphs">600</text>
<text x="586.61" y="361" font-size="8.8" text-anchor="middle" fill="#3a3a3a" textLength="11.6" lengthAdjust="spacingAndGlyphs">700</text>
<text x="615.04" y="361" font-size="8.8" text-anchor="middle" fill="#3a3a3a" textLength="11.6" lengthAdjust="spacingAndGlyphs">800</text>
<text x="643.47" y="361" font-size="8.8" text-anchor="middle" fill="#3a3a3a" textLength="11.6" lengthAdjust="spacingAndGlyphs">900</text>
<text x="671.9" y="361" font-size="8.8" text-anchor="middle" fill="#3a3a3a" textLength="14.6" lengthAdjust="spacingAndGlyphs">1000</text>
<text x="367.2" y="352.8" font-size="8.6" fill="#333" textLength="3.8" lengthAdjust="spacingAndGlyphs">0</text>
<text x="367.2" y="320.8" font-size="8.6" fill="#333" textLength="3.8" lengthAdjust="spacingAndGlyphs">1</text>
<text x="367.2" y="288.8" font-size="8.6" fill="#333" textLength="3.8" lengthAdjust="spacingAndGlyphs">2</text>
<text x="367.2" y="256.8" font-size="8.6" fill="#333" textLength="3.8" lengthAdjust="spacingAndGlyphs">3</text>
<text x="367.2" y="224.8" font-size="8.6" fill="#333" textLength="3.8" lengthAdjust="spacingAndGlyphs">4</text>
<text x="367.2" y="192.8" font-size="8.6" fill="#333" textLength="3.8" lengthAdjust="spacingAndGlyphs">5</text>
<text x="453.5" y="175.4" font-size="8.2" font-weight="bold" fill="#111" stroke="#111" stroke-width="0.15" textLength="138" lengthAdjust="spacingAndGlyphs">Fundamental (50Hz) = 117.6 , THD= 0.64%</text>
<text x="522.75" y="371.8" font-size="8" text-anchor="middle" fill="#3a3a3a" stroke="#3a3a3a" stroke-width="0.15" textLength="50.5" lengthAdjust="spacingAndGlyphs">Frequency (Hz)</text>
<text transform="translate(362.8,265) rotate(-90)" x="0" y="0" font-size="8" text-anchor="middle" fill="#333" stroke="#333" stroke-width="0.15" textLength="99" lengthAdjust="spacingAndGlyphs">Mag (% of Fundamental)</text>
</g>
<text x="167.55" y="146" font-family="Liberation Serif, serif" font-size="16" text-anchor="middle" fill="#111" stroke="#111" stroke-width="0.2" textLength="18.4" lengthAdjust="spacingAndGlyphs">(a)</text>
<text x="513.75" y="145.6" font-family="Liberation Serif, serif" font-size="16" text-anchor="middle" fill="#111" stroke="#111" stroke-width="0.2" textLength="19.0" lengthAdjust="spacingAndGlyphs">(b)</text>
<text x="167.45" y="390.2" font-family="Liberation Serif, serif" font-size="16" text-anchor="middle" fill="#111" stroke="#111" stroke-width="0.2" textLength="18.3" lengthAdjust="spacingAndGlyphs">(c)</text>
<text x="517.95" y="390.2" font-family="Liberation Serif, serif" font-size="16" text-anchor="middle" fill="#111" stroke="#111" stroke-width="0.2" textLength="19.3" lengthAdjust="spacingAndGlyphs">(d)</text>
<line x1="0" y1="0.5" x2="685" y2="0.5" stroke="#a0a0a0" stroke-width="1"/>
<line x1="0.5" y1="0" x2="0.5" y2="395" stroke="#a0a0a0" stroke-width="1"/>
<line x1="684.5" y1="0" x2="684.5" y2="395" stroke="#a6a6a6" stroke-width="1"/>
<line x1="0" y1="394.5" x2="685" y2="394.5" stroke="#585858" stroke-width="1"/>
</svg>
</body></html>
